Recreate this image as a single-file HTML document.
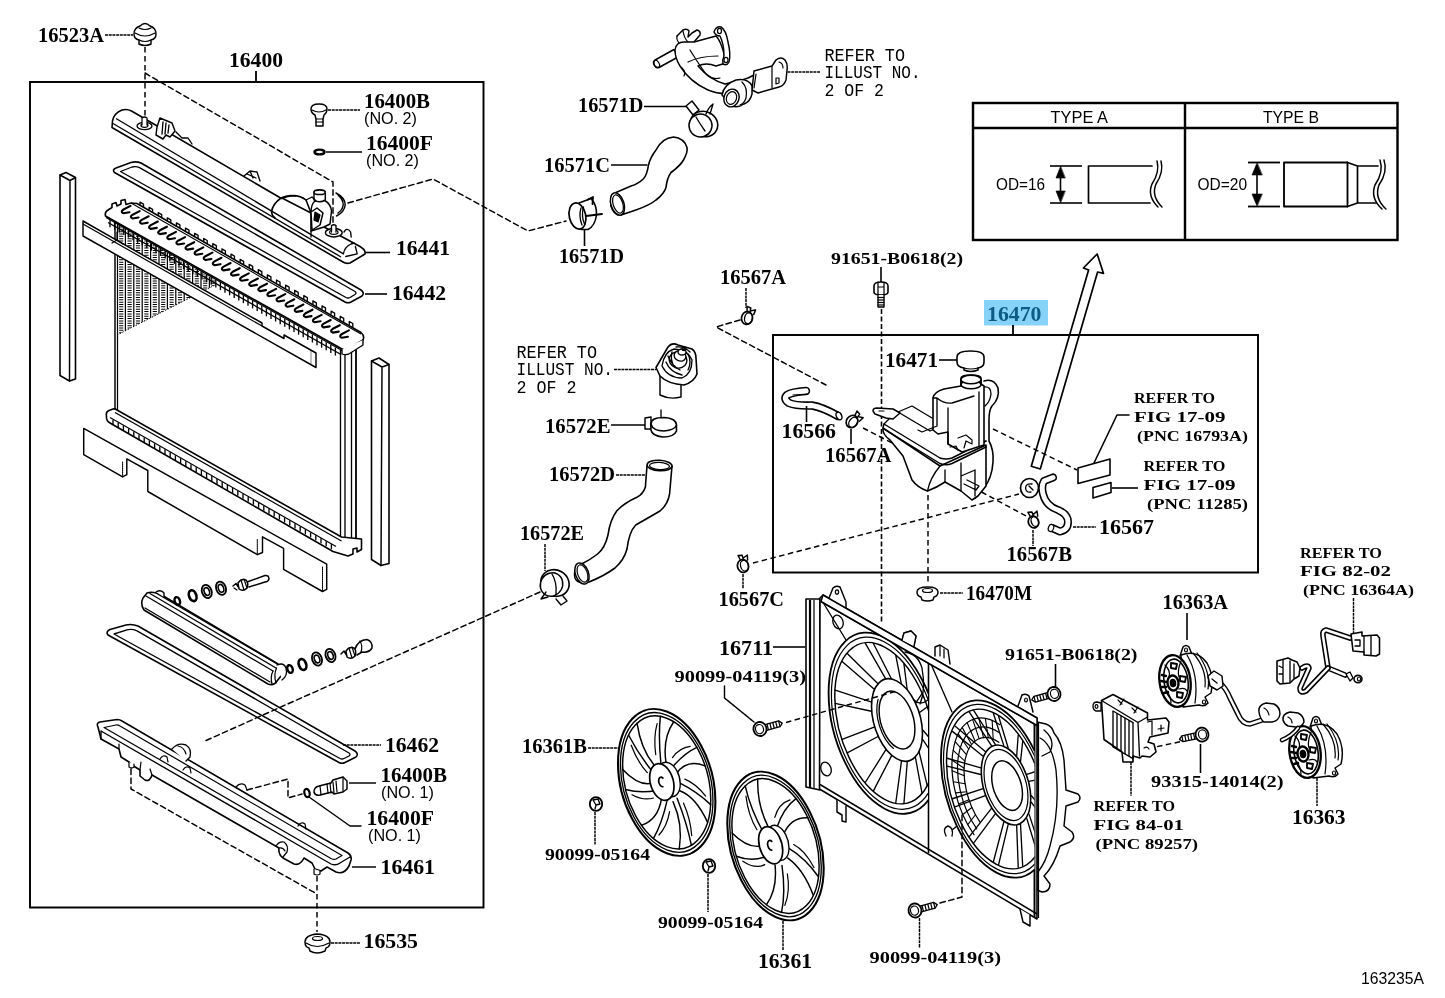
<!DOCTYPE html>
<html><head><meta charset="utf-8"><title>Radiator &amp; Water Outlet</title>
<style>
html,body{margin:0;padding:0;background:#fff;}
body{width:1445px;height:998px;overflow:hidden;}
svg{display:block;will-change:transform;}
</style></head>
<body>
<svg width="1445" height="998" viewBox="0 0 1445 998" shape-rendering="geometricPrecision">
<rect x="0" y="0" width="1445" height="998" fill="#fff"/>
<g id="radiator">
<line x1="145" y1="47" x2="145" y2="120" stroke="#000" stroke-width="1.46" stroke-dasharray="5.5 3.5"/>
<polyline points="145,73 333,182 333,228" fill="none" stroke="#000" stroke-width="1.46" stroke-linejoin="round" stroke-linecap="round" stroke-dasharray="5.5 3.5"/>
<line x1="105" y1="35" x2="133" y2="35" stroke="#000" stroke-width="1.46" stroke-dasharray="3 0.7"/>
<path d="M134 34 Q134 28 140 26 Q145 21 150 26 Q156 28 156 34 Q156 39 151 40 L151 44 Q145 47 139 44 L139 40 Q134 39 134 34 Z" fill="#fff" stroke="#000" stroke-width="1.46" stroke-linejoin="round" stroke-linecap="round"/>
<path d="M135 33 Q145 39 155 33 M139 28 Q145 31 151 28 M139 40 Q145 43 151 40" fill="none" stroke="#000" stroke-width="1.22" stroke-linejoin="round" stroke-linecap="round"/>
<path d="M112 127.5 L112.5 121 Q114 113 122 110 Q127 108.5 131.5 111 L281.5 198.5 Q296 192 306 200 L311 213 L311 231 L324 227 L360 246.5 Q366 250 365 254 L350 263 Q346 264 343 262 Z" fill="#fff" stroke="#000" stroke-width="1.59" stroke-linejoin="round" stroke-linecap="round"/>
<line x1="116" y1="118.5" x2="343.4" y2="253.8" stroke="#000" stroke-width="1.34"/>
<line x1="113" y1="123.5" x2="341" y2="257" stroke="#000" stroke-width="1.34"/>
<ellipse cx="144.5" cy="126" rx="7.5" ry="3.6" fill="#fff" stroke="#000" stroke-width="1.34"/>
<ellipse cx="144.5" cy="125.5" rx="3.5" ry="1.8" fill="none" stroke="#000" stroke-width="1.22"/>
<path d="M142 125 L142 118 Q144.5 116 147 118 L147 125" fill="#fff" stroke="#000" stroke-width="1.22" stroke-linejoin="round" stroke-linecap="round"/>
<path d="M157 127 L160 118 L172 123 L175 131 L170 137 L166 135 L163 139 L156 135 Z" fill="#fff" stroke="#000" stroke-width="1.46" stroke-linejoin="round" stroke-linecap="round"/>
<path d="M163 122 L162 134 M166 123 L165 134 M169 125 L168 133 M176 132 L182 138 L188 138 L192 144" fill="none" stroke="#000" stroke-width="1.34" stroke-linejoin="round" stroke-linecap="round"/>
<path d="M244 176 L250 171 L257 172 L260 181 M250 171 L253 178 M247 174 L256 178" fill="none" stroke="#000" stroke-width="1.34" stroke-linejoin="round" stroke-linecap="round"/>
<path d="M295.3 196 Q288 194.5 281 198 Q272.5 204 271.5 212 Q272 216 275 218" fill="none" stroke="#000" stroke-width="1.59" stroke-linejoin="round" stroke-linecap="round"/>
<path d="M282 198 L311 213" fill="none" stroke="#000" stroke-width="1.46" stroke-linejoin="round" stroke-linecap="round"/>
<path d="M336 193 Q345.5 198 345.2 205 Q344.5 212 336.5 216 M338 195 Q343.5 200 343.2 205 Q342.5 210 338 213" fill="none" stroke="#000" stroke-width="1.46" stroke-linejoin="round" stroke-linecap="round"/>
<path d="M311 213 Q311 204 315 201 L324 200 Q331 204 331.5 211 L330 224 L324 227" fill="#fff" stroke="#000" stroke-width="1.46" stroke-linejoin="round" stroke-linecap="round"/>
<path d="M314 192 L314 200 Q319.5 203.5 325.3 200 L325.3 192" fill="#fff" stroke="#000" stroke-width="1.46" stroke-linejoin="round" stroke-linecap="round"/>
<ellipse cx="319.6" cy="192.2" rx="5.6" ry="2.3" fill="#fff" stroke="#000" stroke-width="1.59"/>
<path d="M311 212 L317 208 L323 213 L320 225 L312 230 Z" fill="#fff" stroke="#000" stroke-width="1.46" stroke-linejoin="round" stroke-linecap="round"/>
<path d="M315 212 L320 215 L318 222 L314 220 Z" fill="#000" stroke="#000" stroke-width="1.22" stroke-linejoin="round" stroke-linecap="round"/>
<path d="M306 200 L312 197 L316 201" fill="none" stroke="#000" stroke-width="1.34" stroke-linejoin="round" stroke-linecap="round"/>
<path d="M311 231 L311 237" fill="none" stroke="#000" stroke-width="1.34" stroke-linejoin="round" stroke-linecap="round"/>
<ellipse cx="333.8" cy="232.7" rx="8.4" ry="4.2" fill="#fff" stroke="#000" stroke-width="1.46"/>
<ellipse cx="333.8" cy="232.3" rx="4.2" ry="2.1" fill="none" stroke="#000" stroke-width="1.22"/>
<path d="M331.5 232 L331.5 225.5 Q333.8 224 336 225.5 L336 232" fill="#fff" stroke="#000" stroke-width="1.34" stroke-linejoin="round" stroke-linecap="round"/>
<path d="M344 232 L345.8 229.7 Q348.5 228.5 350.6 232 L351.2 237" fill="none" stroke="#000" stroke-width="1.34" stroke-linejoin="round" stroke-linecap="round"/>
<path d="M343.4 253.8 Q344.5 247 351 244 L354.2 243 M355.4 246.5 L357.2 253.8 L345.8 256.5" fill="none" stroke="#000" stroke-width="1.34" stroke-linejoin="round" stroke-linecap="round"/>
<line x1="365" y1="252.5" x2="390" y2="252.5" stroke="#000" stroke-width="1.59"/>
<path d="M114.5 172.5 Q112 169.5 116 168 L131 162.5 Q136 161 141 163 L361 290 Q365 293 362 296 L351 302 Q348 303.5 345 302 Z" fill="#fff" stroke="#000" stroke-width="1.59" stroke-linejoin="round" stroke-linecap="round"/>
<path d="M120.5 171.5 L132 167 Q136 166 140 167.8 L355 291.5 Q357 293 355 294.5 L350 297.5 Q348 298.5 346 297.5 Z" fill="#fff" stroke="#000" stroke-width="1.34" stroke-linejoin="round" stroke-linecap="round"/>
<line x1="365" y1="294" x2="387" y2="294" stroke="#000" stroke-width="1.59"/>
<path d="M60 175 L66 172.5 L75.5 177.5 L75.5 379 L69.5 381 L60 375.5 Z" fill="#fff" stroke="#000" stroke-width="1.59" stroke-linejoin="round" stroke-linecap="round"/>
<path d="M60 175 L70 180.5 L75.5 177.5 M70 180.5 L69.5 381" fill="none" stroke="#000" stroke-width="1.46" stroke-linejoin="round" stroke-linecap="round"/>
<path d="M371.5 361 L379 358 L389 364.5 L389 563.5 L381 565.5 L371.5 559.5 Z" fill="#fff" stroke="#000" stroke-width="1.59" stroke-linejoin="round" stroke-linecap="round"/>
<path d="M371.5 361 L382 367 L389 364.5 M382 367 L381 565.5" fill="none" stroke="#000" stroke-width="1.46" stroke-linejoin="round" stroke-linecap="round"/>
<path d="M115 222 L115 412 L341 541 L356 539 L356 350 Z" fill="#fff" stroke="#000" stroke-width="1.46" stroke-linejoin="round" stroke-linecap="round"/>
<clipPath id="hc"><polygon points="117,224 117,335 215,285 215,280"/></clipPath>
<g clip-path="url(#hc)">
<line x1="117.0" y1="210" x2="117.0" y2="340" stroke="#000" stroke-width="1.22"/>
<line x1="121.2" y1="210" x2="121.2" y2="340" stroke="#000" stroke-width="4.2" stroke-dasharray="1 1.35"/>
<line x1="125.4" y1="210" x2="125.4" y2="340" stroke="#000" stroke-width="1.22"/>
<line x1="129.6" y1="210" x2="129.6" y2="340" stroke="#000" stroke-width="4.2" stroke-dasharray="1 1.35"/>
<line x1="133.8" y1="210" x2="133.8" y2="340" stroke="#000" stroke-width="1.22"/>
<line x1="138.0" y1="210" x2="138.0" y2="340" stroke="#000" stroke-width="4.2" stroke-dasharray="1 1.35"/>
<line x1="142.20000000000002" y1="210" x2="142.20000000000002" y2="340" stroke="#000" stroke-width="1.22"/>
<line x1="146.4" y1="210" x2="146.4" y2="340" stroke="#000" stroke-width="4.2" stroke-dasharray="1 1.35"/>
<line x1="150.60000000000002" y1="210" x2="150.60000000000002" y2="340" stroke="#000" stroke-width="1.22"/>
<line x1="154.8" y1="210" x2="154.8" y2="340" stroke="#000" stroke-width="4.2" stroke-dasharray="1 1.35"/>
<line x1="159.00000000000003" y1="210" x2="159.00000000000003" y2="340" stroke="#000" stroke-width="1.22"/>
<line x1="163.20000000000002" y1="210" x2="163.20000000000002" y2="340" stroke="#000" stroke-width="4.2" stroke-dasharray="1 1.35"/>
<line x1="167.40000000000003" y1="210" x2="167.40000000000003" y2="340" stroke="#000" stroke-width="1.22"/>
<line x1="171.60000000000002" y1="210" x2="171.60000000000002" y2="340" stroke="#000" stroke-width="4.2" stroke-dasharray="1 1.35"/>
<line x1="175.80000000000004" y1="210" x2="175.80000000000004" y2="340" stroke="#000" stroke-width="1.22"/>
<line x1="180.00000000000003" y1="210" x2="180.00000000000003" y2="340" stroke="#000" stroke-width="4.2" stroke-dasharray="1 1.35"/>
<line x1="184.20000000000005" y1="210" x2="184.20000000000005" y2="340" stroke="#000" stroke-width="1.22"/>
<line x1="188.40000000000003" y1="210" x2="188.40000000000003" y2="340" stroke="#000" stroke-width="4.2" stroke-dasharray="1 1.35"/>
<line x1="192.60000000000005" y1="210" x2="192.60000000000005" y2="340" stroke="#000" stroke-width="1.22"/>
<line x1="196.80000000000004" y1="210" x2="196.80000000000004" y2="340" stroke="#000" stroke-width="4.2" stroke-dasharray="1 1.35"/>
<line x1="201.00000000000006" y1="210" x2="201.00000000000006" y2="340" stroke="#000" stroke-width="1.22"/>
<line x1="205.20000000000005" y1="210" x2="205.20000000000005" y2="340" stroke="#000" stroke-width="4.2" stroke-dasharray="1 1.35"/>
<line x1="209.40000000000006" y1="210" x2="209.40000000000006" y2="340" stroke="#000" stroke-width="1.22"/>
<line x1="213.60000000000005" y1="210" x2="213.60000000000005" y2="340" stroke="#000" stroke-width="4.2" stroke-dasharray="1 1.35"/>
</g>
<line x1="117" y1="335" x2="215" y2="285" stroke="#000" stroke-width="0.98" stroke-dasharray="1.5 1.5"/>
<line x1="117.5" y1="224" x2="117.5" y2="412" stroke="#000" stroke-width="1.22"/>
<line x1="340.5" y1="350" x2="340.5" y2="540" stroke="#000" stroke-width="1.34"/>
<line x1="345" y1="350" x2="345" y2="540" stroke="#000" stroke-width="1.34"/>
<line x1="351.5" y1="350" x2="351.5" y2="540" stroke="#000" stroke-width="1.34"/>
<line x1="356" y1="350" x2="356" y2="540" stroke="#000" stroke-width="1.34"/>
<path d="M105.5 216 Q104.5 212 108 210 L112 207.5 L112 204 L116 202.5 L117 206 L121 204 L121 200.5 L125 199.5 L126 204.5 L131 203 L137 203.5 L361 332.5 Q365 336 363 340 L352 346.5 Q347 349.5 342 349 Z" fill="#fff" stroke="#000" stroke-width="1.59" stroke-linejoin="round" stroke-linecap="round"/>
<line x1="108" y1="222.5" x2="341" y2="354.5" stroke="#000" stroke-width="1.34"/>
<line x1="106" y1="217.5" x2="342" y2="350.5" stroke="#000" stroke-width="1.22"/>
<line x1="110.0" y1="219.14" x2="110.0" y2="227.14" stroke="#000" stroke-width="1.34"/>
<line x1="114.6" y1="221.762" x2="114.6" y2="229.762" stroke="#000" stroke-width="1.34"/>
<line x1="119.19999999999999" y1="224.384" x2="119.19999999999999" y2="232.384" stroke="#000" stroke-width="1.34"/>
<line x1="123.79999999999998" y1="227.006" x2="123.79999999999998" y2="235.006" stroke="#000" stroke-width="1.34"/>
<line x1="128.39999999999998" y1="229.628" x2="128.39999999999998" y2="237.628" stroke="#000" stroke-width="1.34"/>
<line x1="132.99999999999997" y1="232.24999999999997" x2="132.99999999999997" y2="240.24999999999997" stroke="#000" stroke-width="1.34"/>
<line x1="137.59999999999997" y1="234.87199999999999" x2="137.59999999999997" y2="242.87199999999999" stroke="#000" stroke-width="1.34"/>
<line x1="142.19999999999996" y1="237.49399999999997" x2="142.19999999999996" y2="245.49399999999997" stroke="#000" stroke-width="1.34"/>
<line x1="146.79999999999995" y1="240.11599999999999" x2="146.79999999999995" y2="248.11599999999999" stroke="#000" stroke-width="1.34"/>
<line x1="151.39999999999995" y1="242.73799999999997" x2="151.39999999999995" y2="250.73799999999997" stroke="#000" stroke-width="1.34"/>
<line x1="155.99999999999994" y1="245.35999999999996" x2="155.99999999999994" y2="253.35999999999996" stroke="#000" stroke-width="1.34"/>
<line x1="160.59999999999994" y1="247.98199999999997" x2="160.59999999999994" y2="255.98199999999997" stroke="#000" stroke-width="1.34"/>
<line x1="165.19999999999993" y1="250.60399999999996" x2="165.19999999999993" y2="258.6039999999999" stroke="#000" stroke-width="1.34"/>
<line x1="169.79999999999993" y1="253.22599999999994" x2="169.79999999999993" y2="261.22599999999994" stroke="#000" stroke-width="1.34"/>
<line x1="174.39999999999992" y1="255.84799999999996" x2="174.39999999999992" y2="263.84799999999996" stroke="#000" stroke-width="1.34"/>
<line x1="178.99999999999991" y1="258.46999999999997" x2="178.99999999999991" y2="266.46999999999997" stroke="#000" stroke-width="1.34"/>
<line x1="183.5999999999999" y1="261.0919999999999" x2="183.5999999999999" y2="269.0919999999999" stroke="#000" stroke-width="1.34"/>
<line x1="188.1999999999999" y1="263.71399999999994" x2="188.1999999999999" y2="271.71399999999994" stroke="#000" stroke-width="1.34"/>
<line x1="192.7999999999999" y1="266.33599999999996" x2="192.7999999999999" y2="274.33599999999996" stroke="#000" stroke-width="1.34"/>
<line x1="197.3999999999999" y1="268.9579999999999" x2="197.3999999999999" y2="276.9579999999999" stroke="#000" stroke-width="1.34"/>
<line x1="201.9999999999999" y1="271.5799999999999" x2="201.9999999999999" y2="279.5799999999999" stroke="#000" stroke-width="1.34"/>
<line x1="206.59999999999988" y1="274.20199999999994" x2="206.59999999999988" y2="282.20199999999994" stroke="#000" stroke-width="1.34"/>
<line x1="211.19999999999987" y1="276.82399999999996" x2="211.19999999999987" y2="284.82399999999996" stroke="#000" stroke-width="1.34"/>
<line x1="215.79999999999987" y1="279.4459999999999" x2="215.79999999999987" y2="287.4459999999999" stroke="#000" stroke-width="1.34"/>
<line x1="220.39999999999986" y1="282.0679999999999" x2="220.39999999999986" y2="290.0679999999999" stroke="#000" stroke-width="1.34"/>
<line x1="224.99999999999986" y1="284.68999999999994" x2="224.99999999999986" y2="292.68999999999994" stroke="#000" stroke-width="1.34"/>
<line x1="229.59999999999985" y1="287.3119999999999" x2="229.59999999999985" y2="295.3119999999999" stroke="#000" stroke-width="1.34"/>
<line x1="234.19999999999985" y1="289.9339999999999" x2="234.19999999999985" y2="297.9339999999999" stroke="#000" stroke-width="1.34"/>
<line x1="238.79999999999984" y1="292.5559999999999" x2="238.79999999999984" y2="300.5559999999999" stroke="#000" stroke-width="1.34"/>
<line x1="243.39999999999984" y1="295.1779999999999" x2="243.39999999999984" y2="303.1779999999999" stroke="#000" stroke-width="1.34"/>
<line x1="247.99999999999983" y1="297.7999999999999" x2="247.99999999999983" y2="305.7999999999999" stroke="#000" stroke-width="1.34"/>
<line x1="252.59999999999982" y1="300.4219999999999" x2="252.59999999999982" y2="308.4219999999999" stroke="#000" stroke-width="1.34"/>
<line x1="257.1999999999998" y1="303.04399999999987" x2="257.1999999999998" y2="311.04399999999987" stroke="#000" stroke-width="1.34"/>
<line x1="261.79999999999984" y1="305.6659999999999" x2="261.79999999999984" y2="313.6659999999999" stroke="#000" stroke-width="1.34"/>
<line x1="266.39999999999986" y1="308.2879999999999" x2="266.39999999999986" y2="316.2879999999999" stroke="#000" stroke-width="1.34"/>
<line x1="270.9999999999999" y1="310.9099999999999" x2="270.9999999999999" y2="318.9099999999999" stroke="#000" stroke-width="1.34"/>
<line x1="275.5999999999999" y1="313.5319999999999" x2="275.5999999999999" y2="321.5319999999999" stroke="#000" stroke-width="1.34"/>
<line x1="280.19999999999993" y1="316.15399999999994" x2="280.19999999999993" y2="324.15399999999994" stroke="#000" stroke-width="1.34"/>
<line x1="284.79999999999995" y1="318.77599999999995" x2="284.79999999999995" y2="326.77599999999995" stroke="#000" stroke-width="1.34"/>
<line x1="289.4" y1="321.39799999999997" x2="289.4" y2="329.39799999999997" stroke="#000" stroke-width="1.34"/>
<line x1="294.0" y1="324.02" x2="294.0" y2="332.02" stroke="#000" stroke-width="1.34"/>
<line x1="298.6" y1="326.642" x2="298.6" y2="334.642" stroke="#000" stroke-width="1.34"/>
<line x1="303.20000000000005" y1="329.264" x2="303.20000000000005" y2="337.264" stroke="#000" stroke-width="1.34"/>
<line x1="307.80000000000007" y1="331.886" x2="307.80000000000007" y2="339.886" stroke="#000" stroke-width="1.34"/>
<line x1="312.4000000000001" y1="334.50800000000004" x2="312.4000000000001" y2="342.50800000000004" stroke="#000" stroke-width="1.34"/>
<line x1="317.0000000000001" y1="337.13000000000005" x2="317.0000000000001" y2="345.13000000000005" stroke="#000" stroke-width="1.34"/>
<line x1="321.60000000000014" y1="339.75200000000007" x2="321.60000000000014" y2="347.75200000000007" stroke="#000" stroke-width="1.34"/>
<line x1="326.20000000000016" y1="342.3740000000001" x2="326.20000000000016" y2="350.3740000000001" stroke="#000" stroke-width="1.34"/>
<line x1="330.8000000000002" y1="344.9960000000001" x2="330.8000000000002" y2="352.9960000000001" stroke="#000" stroke-width="1.34"/>
<line x1="335.4000000000002" y1="347.6180000000001" x2="335.4000000000002" y2="355.6180000000001" stroke="#000" stroke-width="1.34"/>
<path d="M130.5 205.9 L123.5 209.5 Q120.0 211.9 123.5 213.3 L129.5 212.3" fill="none" stroke="#000" stroke-width="2.13" stroke-linejoin="round" stroke-linecap="round"/>
<path d="M139.6 211.1 L132.6 214.7 Q129.1 217.1 132.6 218.5 L138.6 217.5" fill="none" stroke="#000" stroke-width="2.13" stroke-linejoin="round" stroke-linecap="round"/>
<path d="M148.7 216.3 L141.7 219.9 Q138.2 222.3 141.7 223.7 L147.7 222.7" fill="none" stroke="#000" stroke-width="2.13" stroke-linejoin="round" stroke-linecap="round"/>
<path d="M157.8 221.5 L150.8 225.1 Q147.3 227.5 150.8 228.9 L156.8 227.9" fill="none" stroke="#000" stroke-width="2.13" stroke-linejoin="round" stroke-linecap="round"/>
<path d="M166.9 226.7 L159.9 230.3 Q156.4 232.7 159.9 234.1 L165.9 233.1" fill="none" stroke="#000" stroke-width="2.13" stroke-linejoin="round" stroke-linecap="round"/>
<path d="M176.0 231.9 L169.0 235.5 Q165.5 237.9 169.0 239.3 L175.0 238.3" fill="none" stroke="#000" stroke-width="2.13" stroke-linejoin="round" stroke-linecap="round"/>
<path d="M185.1 237.1 L178.1 240.7 Q174.6 243.1 178.1 244.5 L184.1 243.5" fill="none" stroke="#000" stroke-width="2.13" stroke-linejoin="round" stroke-linecap="round"/>
<path d="M194.2 242.2 L187.2 245.8 Q183.7 248.2 187.2 249.6 L193.2 248.6" fill="none" stroke="#000" stroke-width="2.13" stroke-linejoin="round" stroke-linecap="round"/>
<path d="M203.3 247.4 L196.3 251.0 Q192.8 253.4 196.3 254.8 L202.3 253.8" fill="none" stroke="#000" stroke-width="2.13" stroke-linejoin="round" stroke-linecap="round"/>
<path d="M212.4 252.6 L205.4 256.2 Q201.9 258.6 205.4 260.0 L211.4 259.0" fill="none" stroke="#000" stroke-width="2.13" stroke-linejoin="round" stroke-linecap="round"/>
<path d="M221.5 257.8 L214.5 261.4 Q211.0 263.8 214.5 265.2 L220.5 264.2" fill="none" stroke="#000" stroke-width="2.13" stroke-linejoin="round" stroke-linecap="round"/>
<path d="M230.6 263.0 L223.6 266.6 Q220.1 269.0 223.6 270.4 L229.6 269.4" fill="none" stroke="#000" stroke-width="2.13" stroke-linejoin="round" stroke-linecap="round"/>
<path d="M239.7 268.2 L232.7 271.8 Q229.2 274.2 232.7 275.6 L238.7 274.6" fill="none" stroke="#000" stroke-width="2.13" stroke-linejoin="round" stroke-linecap="round"/>
<path d="M248.8 273.4 L241.8 277.0 Q238.3 279.4 241.8 280.8 L247.8 279.8" fill="none" stroke="#000" stroke-width="2.13" stroke-linejoin="round" stroke-linecap="round"/>
<path d="M257.9 278.5 L250.9 282.1 Q247.4 284.5 250.9 285.9 L256.9 284.9" fill="none" stroke="#000" stroke-width="2.13" stroke-linejoin="round" stroke-linecap="round"/>
<path d="M267.0 283.7 L260.0 287.3 Q256.5 289.7 260.0 291.1 L266.0 290.1" fill="none" stroke="#000" stroke-width="2.13" stroke-linejoin="round" stroke-linecap="round"/>
<path d="M276.1 288.9 L269.1 292.5 Q265.6 294.9 269.1 296.3 L275.1 295.3" fill="none" stroke="#000" stroke-width="2.13" stroke-linejoin="round" stroke-linecap="round"/>
<path d="M285.2 294.1 L278.2 297.7 Q274.7 300.1 278.2 301.5 L284.2 300.5" fill="none" stroke="#000" stroke-width="2.13" stroke-linejoin="round" stroke-linecap="round"/>
<path d="M294.3 299.3 L287.3 302.9 Q283.8 305.3 287.3 306.7 L293.3 305.7" fill="none" stroke="#000" stroke-width="2.13" stroke-linejoin="round" stroke-linecap="round"/>
<path d="M303.4 304.5 L296.4 308.1 Q292.9 310.5 296.4 311.9 L302.4 310.9" fill="none" stroke="#000" stroke-width="2.13" stroke-linejoin="round" stroke-linecap="round"/>
<path d="M312.5 309.7 L305.5 313.3 Q302.0 315.7 305.5 317.1 L311.5 316.1" fill="none" stroke="#000" stroke-width="2.13" stroke-linejoin="round" stroke-linecap="round"/>
<path d="M321.6 314.9 L314.6 318.5 Q311.1 320.9 314.6 322.3 L320.6 321.3" fill="none" stroke="#000" stroke-width="2.13" stroke-linejoin="round" stroke-linecap="round"/>
<path d="M330.7 320.0 L323.7 323.6 Q320.2 326.0 323.7 327.4 L329.7 326.4" fill="none" stroke="#000" stroke-width="2.13" stroke-linejoin="round" stroke-linecap="round"/>
<path d="M339.8 325.2 L332.8 328.8 Q329.3 331.2 332.8 332.6 L338.8 331.6" fill="none" stroke="#000" stroke-width="2.13" stroke-linejoin="round" stroke-linecap="round"/>
<path d="M348.9 330.4 L341.9 334.0 Q338.4 336.4 341.9 337.8 L347.9 336.8" fill="none" stroke="#000" stroke-width="2.13" stroke-linejoin="round" stroke-linecap="round"/>
<path d="M140.0 205.2 L140.0 202.2 L143.5 204.2 L143.5 207.2" fill="none" stroke="#000" stroke-width="1.34" stroke-linejoin="round" stroke-linecap="round"/>
<path d="M149.1 210.4 L149.1 207.4 L152.6 209.4 L152.6 212.4" fill="none" stroke="#000" stroke-width="1.34" stroke-linejoin="round" stroke-linecap="round"/>
<path d="M158.2 215.6 L158.2 212.6 L161.7 214.6 L161.7 217.6" fill="none" stroke="#000" stroke-width="1.34" stroke-linejoin="round" stroke-linecap="round"/>
<path d="M167.3 220.8 L167.3 217.8 L170.8 219.8 L170.8 222.8" fill="none" stroke="#000" stroke-width="1.34" stroke-linejoin="round" stroke-linecap="round"/>
<path d="M176.4 225.9 L176.4 222.9 L179.9 224.9 L179.9 227.9" fill="none" stroke="#000" stroke-width="1.34" stroke-linejoin="round" stroke-linecap="round"/>
<path d="M185.5 231.1 L185.5 228.1 L189.0 230.1 L189.0 233.1" fill="none" stroke="#000" stroke-width="1.34" stroke-linejoin="round" stroke-linecap="round"/>
<path d="M194.6 236.3 L194.6 233.3 L198.1 235.3 L198.1 238.3" fill="none" stroke="#000" stroke-width="1.34" stroke-linejoin="round" stroke-linecap="round"/>
<path d="M203.7 241.5 L203.7 238.5 L207.2 240.5 L207.2 243.5" fill="none" stroke="#000" stroke-width="1.34" stroke-linejoin="round" stroke-linecap="round"/>
<path d="M212.8 246.7 L212.8 243.7 L216.3 245.7 L216.3 248.7" fill="none" stroke="#000" stroke-width="1.34" stroke-linejoin="round" stroke-linecap="round"/>
<path d="M221.9 251.9 L221.9 248.9 L225.4 250.9 L225.4 253.9" fill="none" stroke="#000" stroke-width="1.34" stroke-linejoin="round" stroke-linecap="round"/>
<path d="M231.0 257.1 L231.0 254.1 L234.5 256.1 L234.5 259.1" fill="none" stroke="#000" stroke-width="1.34" stroke-linejoin="round" stroke-linecap="round"/>
<path d="M240.1 262.3 L240.1 259.3 L243.6 261.3 L243.6 264.3" fill="none" stroke="#000" stroke-width="1.34" stroke-linejoin="round" stroke-linecap="round"/>
<path d="M249.2 267.4 L249.2 264.4 L252.7 266.4 L252.7 269.4" fill="none" stroke="#000" stroke-width="1.34" stroke-linejoin="round" stroke-linecap="round"/>
<path d="M258.3 272.6 L258.3 269.6 L261.8 271.6 L261.8 274.6" fill="none" stroke="#000" stroke-width="1.34" stroke-linejoin="round" stroke-linecap="round"/>
<path d="M267.4 277.8 L267.4 274.8 L270.9 276.8 L270.9 279.8" fill="none" stroke="#000" stroke-width="1.34" stroke-linejoin="round" stroke-linecap="round"/>
<path d="M276.5 283.0 L276.5 280.0 L280.0 282.0 L280.0 285.0" fill="none" stroke="#000" stroke-width="1.34" stroke-linejoin="round" stroke-linecap="round"/>
<path d="M285.6 288.2 L285.6 285.2 L289.1 287.2 L289.1 290.2" fill="none" stroke="#000" stroke-width="1.34" stroke-linejoin="round" stroke-linecap="round"/>
<path d="M294.7 293.4 L294.7 290.4 L298.2 292.4 L298.2 295.4" fill="none" stroke="#000" stroke-width="1.34" stroke-linejoin="round" stroke-linecap="round"/>
<path d="M303.8 298.6 L303.8 295.6 L307.3 297.6 L307.3 300.6" fill="none" stroke="#000" stroke-width="1.34" stroke-linejoin="round" stroke-linecap="round"/>
<path d="M312.9 303.8 L312.9 300.8 L316.4 302.8 L316.4 305.8" fill="none" stroke="#000" stroke-width="1.34" stroke-linejoin="round" stroke-linecap="round"/>
<path d="M322.0 308.9 L322.0 305.9 L325.5 307.9 L325.5 310.9" fill="none" stroke="#000" stroke-width="1.34" stroke-linejoin="round" stroke-linecap="round"/>
<path d="M331.1 314.1 L331.1 311.1 L334.6 313.1 L334.6 316.1" fill="none" stroke="#000" stroke-width="1.34" stroke-linejoin="round" stroke-linecap="round"/>
<path d="M340.2 319.3 L340.2 316.3 L343.7 318.3 L343.7 321.3" fill="none" stroke="#000" stroke-width="1.34" stroke-linejoin="round" stroke-linecap="round"/>
<path d="M349.3 324.5 L349.3 321.5 L352.8 323.5 L352.8 326.5" fill="none" stroke="#000" stroke-width="1.34" stroke-linejoin="round" stroke-linecap="round"/>
<line x1="131" y1="203" x2="361" y2="334" stroke="#000" stroke-width="1.1"/>
<path d="M342 349 L342 354 Q347 356 352 352 L363 345 L363 340" fill="#fff" stroke="#000" stroke-width="1.34" stroke-linejoin="round" stroke-linecap="round"/>
<path d="M83 221 L262 323 L262 326 L284 338.5 L284 335 L316 353 L316 367.5 L83 236 Z" fill="#fff" stroke="#000" stroke-width="1.46" stroke-linejoin="round" stroke-linecap="round"/>
<line x1="83" y1="224" x2="262" y2="326" stroke="#000" stroke-width="1.22"/>
<line x1="311" y1="350.5" x2="311" y2="364.5" stroke="#000" stroke-width="0.98" stroke-dasharray="1 1"/>
<path d="M117 232 L117 240 L112 243 M117 240 L123 244" fill="none" stroke="#000" stroke-width="1.22" stroke-linejoin="round" stroke-linecap="round"/>
<path d="M106.5 416 Q105.5 412 109 410.5 L113 409 Q115 408.5 117 410 L341.5 537 L361.5 539 L361.5 549.5 L357 552 L357 548 L353 549 L353 554 L348 556 L333 551.5 L110 423 Q106 421 106.5 416 Z" fill="#fff" stroke="#000" stroke-width="1.59" stroke-linejoin="round" stroke-linecap="round"/>
<line x1="110" y1="417.5" x2="336" y2="546.5" stroke="#000" stroke-width="1.22"/>
<line x1="115" y1="412.5" x2="341.5" y2="541" stroke="#000" stroke-width="1.22"/>
<line x1="113.0" y1="419.71" x2="113.0" y2="424.71" stroke="#000" stroke-width="1.34"/>
<line x1="118.2" y1="422.674" x2="118.2" y2="427.674" stroke="#000" stroke-width="1.34"/>
<line x1="123.4" y1="425.638" x2="123.4" y2="430.638" stroke="#000" stroke-width="1.34"/>
<line x1="128.6" y1="428.602" x2="128.6" y2="433.602" stroke="#000" stroke-width="1.34"/>
<line x1="133.79999999999998" y1="431.566" x2="133.79999999999998" y2="436.566" stroke="#000" stroke-width="1.34"/>
<line x1="138.99999999999997" y1="434.53" x2="138.99999999999997" y2="439.53" stroke="#000" stroke-width="1.34"/>
<line x1="144.19999999999996" y1="437.49399999999997" x2="144.19999999999996" y2="442.49399999999997" stroke="#000" stroke-width="1.34"/>
<line x1="149.39999999999995" y1="440.45799999999997" x2="149.39999999999995" y2="445.45799999999997" stroke="#000" stroke-width="1.34"/>
<line x1="154.59999999999994" y1="443.42199999999997" x2="154.59999999999994" y2="448.42199999999997" stroke="#000" stroke-width="1.34"/>
<line x1="159.79999999999993" y1="446.38599999999997" x2="159.79999999999993" y2="451.38599999999997" stroke="#000" stroke-width="1.34"/>
<line x1="164.99999999999991" y1="449.34999999999997" x2="164.99999999999991" y2="454.34999999999997" stroke="#000" stroke-width="1.34"/>
<line x1="170.1999999999999" y1="452.31399999999996" x2="170.1999999999999" y2="457.31399999999996" stroke="#000" stroke-width="1.34"/>
<line x1="175.3999999999999" y1="455.2779999999999" x2="175.3999999999999" y2="460.2779999999999" stroke="#000" stroke-width="1.34"/>
<line x1="180.59999999999988" y1="458.2419999999999" x2="180.59999999999988" y2="463.2419999999999" stroke="#000" stroke-width="1.34"/>
<line x1="185.79999999999987" y1="461.2059999999999" x2="185.79999999999987" y2="466.2059999999999" stroke="#000" stroke-width="1.34"/>
<line x1="190.99999999999986" y1="464.1699999999999" x2="190.99999999999986" y2="469.1699999999999" stroke="#000" stroke-width="1.34"/>
<line x1="196.19999999999985" y1="467.1339999999999" x2="196.19999999999985" y2="472.1339999999999" stroke="#000" stroke-width="1.34"/>
<line x1="201.39999999999984" y1="470.0979999999999" x2="201.39999999999984" y2="475.0979999999999" stroke="#000" stroke-width="1.34"/>
<line x1="206.59999999999982" y1="473.0619999999999" x2="206.59999999999982" y2="478.0619999999999" stroke="#000" stroke-width="1.34"/>
<line x1="211.7999999999998" y1="476.0259999999999" x2="211.7999999999998" y2="481.0259999999999" stroke="#000" stroke-width="1.34"/>
<line x1="216.9999999999998" y1="478.9899999999999" x2="216.9999999999998" y2="483.9899999999999" stroke="#000" stroke-width="1.34"/>
<line x1="222.1999999999998" y1="481.9539999999999" x2="222.1999999999998" y2="486.9539999999999" stroke="#000" stroke-width="1.34"/>
<line x1="227.39999999999978" y1="484.9179999999999" x2="227.39999999999978" y2="489.9179999999999" stroke="#000" stroke-width="1.34"/>
<line x1="232.59999999999977" y1="487.88199999999983" x2="232.59999999999977" y2="492.88199999999983" stroke="#000" stroke-width="1.34"/>
<line x1="237.79999999999976" y1="490.8459999999999" x2="237.79999999999976" y2="495.8459999999999" stroke="#000" stroke-width="1.34"/>
<line x1="242.99999999999974" y1="493.80999999999983" x2="242.99999999999974" y2="498.80999999999983" stroke="#000" stroke-width="1.34"/>
<line x1="248.19999999999973" y1="496.77399999999983" x2="248.19999999999973" y2="501.77399999999983" stroke="#000" stroke-width="1.34"/>
<line x1="253.39999999999972" y1="499.73799999999983" x2="253.39999999999972" y2="504.73799999999983" stroke="#000" stroke-width="1.34"/>
<line x1="258.59999999999974" y1="502.7019999999998" x2="258.59999999999974" y2="507.7019999999998" stroke="#000" stroke-width="1.34"/>
<line x1="263.7999999999997" y1="505.6659999999998" x2="263.7999999999997" y2="510.6659999999998" stroke="#000" stroke-width="1.34"/>
<line x1="268.9999999999997" y1="508.6299999999998" x2="268.9999999999997" y2="513.6299999999999" stroke="#000" stroke-width="1.34"/>
<line x1="274.1999999999997" y1="511.5939999999998" x2="274.1999999999997" y2="516.5939999999998" stroke="#000" stroke-width="1.34"/>
<line x1="279.3999999999997" y1="514.5579999999998" x2="279.3999999999997" y2="519.5579999999998" stroke="#000" stroke-width="1.34"/>
<line x1="284.5999999999997" y1="517.5219999999998" x2="284.5999999999997" y2="522.5219999999998" stroke="#000" stroke-width="1.34"/>
<line x1="289.79999999999967" y1="520.4859999999998" x2="289.79999999999967" y2="525.4859999999998" stroke="#000" stroke-width="1.34"/>
<line x1="294.99999999999966" y1="523.4499999999998" x2="294.99999999999966" y2="528.4499999999998" stroke="#000" stroke-width="1.34"/>
<line x1="300.19999999999965" y1="526.4139999999998" x2="300.19999999999965" y2="531.4139999999998" stroke="#000" stroke-width="1.34"/>
<line x1="305.39999999999964" y1="529.3779999999998" x2="305.39999999999964" y2="534.3779999999998" stroke="#000" stroke-width="1.34"/>
<line x1="310.5999999999996" y1="532.3419999999998" x2="310.5999999999996" y2="537.3419999999998" stroke="#000" stroke-width="1.34"/>
<line x1="315.7999999999996" y1="535.3059999999998" x2="315.7999999999996" y2="540.3059999999998" stroke="#000" stroke-width="1.34"/>
<line x1="320.9999999999996" y1="538.2699999999998" x2="320.9999999999996" y2="543.2699999999998" stroke="#000" stroke-width="1.34"/>
<line x1="326.1999999999996" y1="541.2339999999997" x2="326.1999999999996" y2="546.2339999999997" stroke="#000" stroke-width="1.34"/>
<line x1="331.3999999999996" y1="544.1979999999998" x2="331.3999999999996" y2="549.1979999999998" stroke="#000" stroke-width="1.34"/>
<clipPath id="lsp"><polygon points="0,560 0,1000 500,1000 500,560 363,560 363,548 333,551.5 110,423 106,416 0,416"/></clipPath>
<polygon points="83.7,428.4 83.7,454.7 122.6,476.8 126.8,474.7 126.8,458.9 147.8,470.5 147.8,491.5 257.3,554.6 262.5,552.5 262.5,536.8 283.6,548.3 283.6,569.4 322.5,591.5 326.7,589.4 326.7,564.1" fill="#fff" stroke="#000" stroke-width="1.46" stroke-linejoin="round" stroke-linecap="round"/>
<path d="M122.6 476.8 L122.6 462 M257.3 554.6 L257.3 539 M322.5 591.5 L322.5 567" fill="none" stroke="#000" stroke-width="1.1" stroke-linejoin="round" stroke-linecap="round" stroke-dasharray="1 1"/>
<path d="M143 598 Q140 604 144 610 L268 684 Q274 686 277 681 L281 676 Q283 668 278 664 L160 594 Q152 591 147 593 Z" fill="#fff" stroke="#000" stroke-width="1.59" stroke-linejoin="round" stroke-linecap="round"/>
<path d="M146 596 L273 671 M150 593.5 L276 668 M156 593 L279 665 M145 608 L270 682" fill="none" stroke="#000" stroke-width="1.22" stroke-linejoin="round" stroke-linecap="round"/>
<path d="M273 671 Q270 677 272 684 M276.5 668 Q273.5 675 276 683" fill="none" stroke="#000" stroke-width="1.22" stroke-linejoin="round" stroke-linecap="round"/>
<path d="M156 592 Q161 589 164 593 L164 597" fill="#fff" stroke="#000" stroke-width="1.34" stroke-linejoin="round" stroke-linecap="round"/>
<path d="M277 665 Q284 662 286 668 Q288 676 282 680" fill="#fff" stroke="#000" stroke-width="1.34" stroke-linejoin="round" stroke-linecap="round"/>
<ellipse cx="177.3" cy="601" rx="2.6" ry="4" fill="none" stroke="#000" stroke-width="2.44" transform="rotate(-20 177.3 601)"/>
<ellipse cx="192.7" cy="595.7" rx="3.6" ry="5.6" fill="none" stroke="#000" stroke-width="2.68" transform="rotate(-20 192.7 595.7)"/>
<ellipse cx="206.8" cy="591.5" rx="4.8" ry="6.8" fill="none" stroke="#000" stroke-width="1.83" transform="rotate(-20 206.8 591.5)"/>
<ellipse cx="206.8" cy="591.5" rx="2.6" ry="4" fill="none" stroke="#000" stroke-width="1.59" transform="rotate(-20 206.8 591.5)"/>
<ellipse cx="221" cy="588.3" rx="4.8" ry="6.8" fill="none" stroke="#000" stroke-width="1.83" transform="rotate(-20 221 588.3)"/>
<ellipse cx="221" cy="588.3" rx="2.6" ry="4" fill="none" stroke="#000" stroke-width="1.59" transform="rotate(-20 221 588.3)"/>
<path d="M233 586 L236 583.5 L239 588 M238 583 Q241 578 246 580 Q249 583 247 588 Q243 592 239 589 Z M247 582 L265 575.5 Q269 575 269 579 Q268 582 265 582 L249 587" fill="#fff" stroke="#000" stroke-width="1.46" stroke-linejoin="round" stroke-linecap="round"/>
<path d="M234 588 L237 590 M241 580 L244 590 M244 579 L247 588" fill="none" stroke="#000" stroke-width="1.22" stroke-linejoin="round" stroke-linecap="round"/>
<ellipse cx="290" cy="669" rx="2.6" ry="4" fill="none" stroke="#000" stroke-width="2.44" transform="rotate(-20 290 669)"/>
<ellipse cx="302.5" cy="664.5" rx="3.6" ry="5.6" fill="none" stroke="#000" stroke-width="2.68" transform="rotate(-20 302.5 664.5)"/>
<ellipse cx="317" cy="659" rx="4.8" ry="6.8" fill="none" stroke="#000" stroke-width="1.83" transform="rotate(-20 317 659)"/>
<ellipse cx="317" cy="659" rx="2.6" ry="4" fill="none" stroke="#000" stroke-width="1.59" transform="rotate(-20 317 659)"/>
<ellipse cx="330.5" cy="655.5" rx="4.8" ry="6.8" fill="none" stroke="#000" stroke-width="1.83" transform="rotate(-20 330.5 655.5)"/>
<ellipse cx="330.5" cy="655.5" rx="2.6" ry="4" fill="none" stroke="#000" stroke-width="1.59" transform="rotate(-20 330.5 655.5)"/>
<path d="M341 654 L344 651 L347 656 M346 651 Q349 646 354 648 Q357 651 355 656 Q351 660 347 657 Z M355 649 Q358 640 367 639.5 Q373 642 372 648 Q369 653 362 652 L357 655" fill="#fff" stroke="#000" stroke-width="1.46" stroke-linejoin="round" stroke-linecap="round"/>
<path d="M349 648 L352 658 M352 647 L355 656 M360 641 Q363 646 361 652" fill="none" stroke="#000" stroke-width="1.22" stroke-linejoin="round" stroke-linecap="round"/>
<path d="M108 635 Q105.5 631.5 110 629.5 L126 625 Q132 623.5 138 626 L355 751 Q359 754 356 757 L345 762.5 Q342 764 339 762.5 Z" fill="#fff" stroke="#000" stroke-width="1.59" stroke-linejoin="round" stroke-linecap="round"/>
<path d="M114 634 L127 629.8 Q132 628.6 137 630.8 L349 753 Q351 754.5 349 756 L344 758.5 Q342 759.5 340 758.5 Z" fill="#fff" stroke="#000" stroke-width="1.34" stroke-linejoin="round" stroke-linecap="round"/>
<line x1="343" y1="745" x2="381" y2="745" stroke="#000" stroke-width="1.59" stroke-dasharray="3 0.7"/>
<polyline points="540,592 430,641 283,706 205,741" fill="none" stroke="#000" stroke-width="1.46" stroke-linejoin="round" stroke-linecap="round" stroke-dasharray="5.5 3.5"/>
<path d="M98 727 Q96 723 100 722 L117 719.5 Q120 719.5 122 721 L348 853 Q352 856 351 860 L349 866 Q344 875 336 872 L327 867 L321 871 L315 869 L312 863 L304 858 Q300 866 294 864 L283 858 Q278 854 279 848 L152 775 Q150 782 145 780 L140 776 L140 770 L132 765 L129 762 L121 757 L119 749 L101 739 Z" fill="#fff" stroke="#000" stroke-width="1.59" stroke-linejoin="round" stroke-linecap="round"/>
<path d="M104 727.5 L116 725 Q118 724.7 120 726 L342 855.5 L336 859 Q334 860 331 858.5 Z" fill="#fff" stroke="#000" stroke-width="1.22" stroke-linejoin="round" stroke-linecap="round"/>
<path d="M101 739 L101 731 M101 731 L331 864 Q336 866 340 863 L350 857" fill="none" stroke="#000" stroke-width="1.34" stroke-linejoin="round" stroke-linecap="round"/>
<path d="M119 749 L119 744 M140 770 L141 762 M152 775 L150 769" fill="none" stroke="#000" stroke-width="1.22" stroke-linejoin="round" stroke-linecap="round"/>
<path d="M172 749 Q178 742 186 745 Q192 749 190 757 L186 761" fill="#fff" stroke="#000" stroke-width="1.34" stroke-linejoin="round" stroke-linecap="round"/>
<path d="M178 746 Q184 747 186 754" fill="none" stroke="#000" stroke-width="1.22" stroke-linejoin="round" stroke-linecap="round"/>
<path d="M160 759 Q163 754 167 757 L168 762 M183 770 Q186 765 190 768 L191 773" fill="none" stroke="#000" stroke-width="1.22" stroke-linejoin="round" stroke-linecap="round"/>
<path d="M236 787 Q240 782 245 785 L247 790 M298 826 Q301 821 305 824 L306 829" fill="none" stroke="#000" stroke-width="1.22" stroke-linejoin="round" stroke-linecap="round"/>
<path d="M276 846 Q279 841 284 842 Q289 846 287 852 L283 857 M279 848 Q283 847 285 851" fill="none" stroke="#000" stroke-width="1.22" stroke-linejoin="round" stroke-linecap="round"/>
<path d="M129 762 L129 767 Q131.5 769 134 767 L134 764" fill="#fff" stroke="#000" stroke-width="1.22" stroke-linejoin="round" stroke-linecap="round"/>
<path d="M314 869 L314 874 Q317 876 320 874 L320 871" fill="#fff" stroke="#000" stroke-width="1.22" stroke-linejoin="round" stroke-linecap="round"/>
<line x1="352" y1="867" x2="376" y2="867" stroke="#000" stroke-width="1.46"/>
<polyline points="131,769 131,789 317,894" fill="none" stroke="#000" stroke-width="1.46" stroke-linejoin="round" stroke-linecap="round" stroke-dasharray="5.5 3.5"/>
<line x1="317" y1="876" x2="317" y2="932" stroke="#000" stroke-width="1.46" stroke-dasharray="5.5 3.5"/>
<polyline points="247,790 288,779 288,798 302,794" fill="none" stroke="#000" stroke-width="1.46" stroke-linejoin="round" stroke-linecap="round" stroke-dasharray="5.5 3.5"/>
<ellipse cx="307" cy="793" rx="2.6" ry="4.2" fill="none" stroke="#000" stroke-width="2.2" transform="rotate(-15 307 793)"/>
<path d="M314 792 Q314 787 319 786 L331 783 L333 780 L343 777 L347 781 L347 789 L343 792 L334 794 L332 792 L320 795 Q315 796 314 792 Z" fill="#fff" stroke="#000" stroke-width="1.46" stroke-linejoin="round" stroke-linecap="round"/>
<path d="M320 786 L321 795 M327 784 L328 793 M330 783 L331 793 M333 782 L334 793 M336 781 L337 792 M343 777 L343 791" fill="none" stroke="#000" stroke-width="1.22" stroke-linejoin="round" stroke-linecap="round"/>
<line x1="349" y1="783" x2="376" y2="783" stroke="#000" stroke-width="1.46"/>
<polyline points="309,797 350,826 361,826" fill="none" stroke="#000" stroke-width="1.46" stroke-linejoin="round" stroke-linecap="round"/>
<path d="M311 109 Q311 104 319 104 Q327 104 327 109 Q327 113 324 115 L323 119 L323 126 L316 126 L316 119 L315 115 Q311 113 311 109 Z" fill="#fff" stroke="#000" stroke-width="1.46" stroke-linejoin="round" stroke-linecap="round"/>
<path d="M312 110 Q319 114 326 110 M316 119 L323 119 M316 122 L323 122" fill="none" stroke="#000" stroke-width="1.22" stroke-linejoin="round" stroke-linecap="round"/>
<line x1="328" y1="110" x2="360" y2="110" stroke="#000" stroke-width="1.46" stroke-dasharray="3 0.7"/>
<ellipse cx="319.5" cy="152" rx="5" ry="2.4" fill="none" stroke="#000" stroke-width="2.44"/>
<line x1="326" y1="152" x2="362" y2="152" stroke="#000" stroke-width="1.71"/>
<path d="M305 942 Q305 935 317.5 934 Q330 935 330 942 Q330 947 326 948 L325 951 Q317 955 310 951 L309 948 Q305 947 305 942 Z" fill="#fff" stroke="#000" stroke-width="1.46" stroke-linejoin="round" stroke-linecap="round"/>
<path d="M306 943 Q317 950 329 943" fill="none" stroke="#000" stroke-width="1.22" stroke-linejoin="round" stroke-linecap="round"/>
<ellipse cx="317.5" cy="938.5" rx="5" ry="2" fill="none" stroke="#000" stroke-width="1.22"/>
<line x1="331" y1="943" x2="360" y2="943" stroke="#000" stroke-width="1.46" stroke-dasharray="3 0.7"/>
</g>
<g id="hoses">
<polyline points="348,203 433,179 528,231 566,221" fill="none" stroke="#000" stroke-width="1.46" stroke-linejoin="round" stroke-linecap="round" stroke-dasharray="5.5 3.5"/>
<path d="M655 60 L674 49.5 L678 57 L659 67.5 Q655 68 654 64 Q653.5 61 655 60 Z" fill="#fff" stroke="#000" stroke-width="1.46" stroke-linejoin="round" stroke-linecap="round"/>
<ellipse cx="656.5" cy="64" rx="2.6" ry="4" fill="none" stroke="#000" stroke-width="1.22" transform="rotate(-30 656.5 64)"/>
<path d="M677 36 L683 30 Q687 28 689 31 L688 37 L692 33 L697 30 Q701 31 700 35 L694 42" fill="#fff" stroke="#000" stroke-width="1.46" stroke-linejoin="round" stroke-linecap="round"/>
<path d="M680 44 Q676 40 677 36 M683 31 Q684 38 688 42" fill="none" stroke="#000" stroke-width="1.22" stroke-linejoin="round" stroke-linecap="round"/>
<path d="M675 50 Q676 42 684 42 L694 42 L716 36 Q722 42 726 63 L716 66 Q706 62 698 66 Q710 80 725 84 L742 80 L748 78 L756 74 L757 86 L740 92 Q722 96 708 90 Q690 82 680 66 Q675 58 675 50 Z" fill="#fff" stroke="#000" stroke-width="1.46" stroke-linejoin="round" stroke-linecap="round"/>
<path d="M690 50 Q700 66 706 74 Q712 80 720 78 M688 62 Q700 56 718 56 M682 68 Q686 72 684 76" fill="none" stroke="#000" stroke-width="1.22" stroke-linejoin="round" stroke-linecap="round"/>
<path d="M714 32 Q716 26 721 27 Q726 30 728 42 Q731 54 729 62 Q727 66 723 64 Q722 60 724 56 Q724 44 720 36 Q716 36 714 32 Z" fill="#fff" stroke="#000" stroke-width="1.46" stroke-linejoin="round" stroke-linecap="round"/>
<ellipse cx="719.5" cy="31" rx="2" ry="2.6" fill="none" stroke="#000" stroke-width="1.22"/>
<ellipse cx="726" cy="60" rx="2" ry="2.6" fill="none" stroke="#000" stroke-width="1.22"/>
<path d="M754 71 L772 66 L776 60 Q781 56 785 60 Q788 64 787 70 L786 80 Q784 86 779 87 L758 93 L752 90 Z" fill="#fff" stroke="#000" stroke-width="1.46" stroke-linejoin="round" stroke-linecap="round"/>
<path d="M756 74 L754 88 M772 66 L772 88 M779 62 Q783 63 783 68 M776 78 L776 84 L779 83 L779 78 Z" fill="none" stroke="#000" stroke-width="1.22" stroke-linejoin="round" stroke-linecap="round"/>
<path d="M722 95 Q724 84 736 80 Q748 78 752 86 L752 94 Q750 102 744 104 Q738 108 732 106 Z" fill="#fff" stroke="#000" stroke-width="1.46" stroke-linejoin="round" stroke-linecap="round"/>
<ellipse cx="731.5" cy="98" rx="7.5" ry="9" fill="#fff" stroke="#000" stroke-width="1.46" transform="rotate(20 731.5 98)"/>
<ellipse cx="731.5" cy="98" rx="5" ry="6.5" fill="none" stroke="#000" stroke-width="1.22" transform="rotate(20 731.5 98)"/>
<path d="M742 82 Q748 88 746 98 Q744 104 740 105" fill="none" stroke="#000" stroke-width="1.22" stroke-linejoin="round" stroke-linecap="round"/>
<line x1="787.5" y1="72" x2="820" y2="72" stroke="#000" stroke-width="1.46" stroke-dasharray="3 0.7"/>
<line x1="644" y1="106.5" x2="686" y2="106.5" stroke="#000" stroke-width="1.59"/>
<path d="M686 106 L692 101 L699 110 L693 115 Z" fill="#fff" stroke="#000" stroke-width="1.46" stroke-linejoin="round" stroke-linecap="round"/>
<ellipse cx="704" cy="124" rx="14" ry="12.5" fill="#fff" stroke="#000" stroke-width="1.59" transform="rotate(25 704 124)"/>
<ellipse cx="700.5" cy="125.5" rx="11.5" ry="11.5" fill="#fff" stroke="#000" stroke-width="1.46" transform="rotate(25 700.5 125.5)"/>
<path d="M696 117 Q700 124 705 131 M706 114 Q708 108 713 104 L710 114" fill="none" stroke="#000" stroke-width="1.34" stroke-linejoin="round" stroke-linecap="round"/>
<path d="M673.5 137 Q662 138 656 150 Q650 158 648.5 165 Q647 175 643.5 178.7 Q638 184 631 186 L616 192.5 Q609 196 611 206 Q614 216 621 215 L636 210 Q650 205 656 200 Q664 194 666 187.5 Q667 178 671 172.5 Q680 166 683.5 160 Q688 152 687 147.5 Q684 138 673.5 137 Z" fill="#fff" stroke="#000" stroke-width="1.59" stroke-linejoin="round" stroke-linecap="round"/>
<ellipse cx="617.5" cy="204" rx="6.5" ry="11.5" fill="#fff" stroke="#000" stroke-width="1.46" transform="rotate(-18 617.5 204)"/>
<ellipse cx="618" cy="204" rx="4.8" ry="9.5" fill="none" stroke="#000" stroke-width="1.22" transform="rotate(-18 618 204)"/>
<line x1="611" y1="165" x2="647.5" y2="165" stroke="#000" stroke-width="1.59"/>
<path d="M579 203 L591 198.5 Q597 205 596.5 215 Q595 226 588 229.5 L581 229.5" fill="#fff" stroke="#000" stroke-width="1.59" stroke-linejoin="round" stroke-linecap="round"/>
<path d="M588 199.5 L593 197 L592.5 204 M586 216 L602 214" fill="none" stroke="#000" stroke-width="1.83" stroke-linejoin="round" stroke-linecap="round"/>
<ellipse cx="577.5" cy="216" rx="8.2" ry="13.2" fill="#fff" stroke="#000" stroke-width="1.71" transform="rotate(-12 577.5 216)"/>
<path d="M581 208 Q578.5 216 582 225 M583.5 207 Q581 216 584.5 224" fill="none" stroke="#000" stroke-width="1.34" stroke-linejoin="round" stroke-linecap="round"/>
<line x1="584.5" y1="230" x2="584.5" y2="246" stroke="#000" stroke-width="1.59"/>
<line x1="614" y1="369.5" x2="656" y2="369.5" stroke="#000" stroke-width="1.46" stroke-dasharray="3 0.7"/>
<path d="M660 375 L660 395 Q670 400 681 397 L681 380" fill="#fff" stroke="#000" stroke-width="1.46" stroke-linejoin="round" stroke-linecap="round"/>
<path d="M656 367.5 L668 347 Q672 342 678 345 L692 349 Q696 352 696 358 L697 374 Q694 382 684 385 Q668 384 660 376 Z" fill="#fff" stroke="#000" stroke-width="1.59" stroke-linejoin="round" stroke-linecap="round"/>
<path d="M662 366 Q664 352 674 349 Q688 350 692 360 Q692 374 682 378 Q668 378 662 366 Z" fill="none" stroke="#000" stroke-width="1.34" stroke-linejoin="round" stroke-linecap="round"/>
<ellipse cx="678" cy="360" rx="9" ry="8" fill="none" stroke="#000" stroke-width="1.34" transform="rotate(20 678 360)"/>
<ellipse cx="680" cy="356" rx="6" ry="5" fill="#fff" stroke="#000" stroke-width="1.34" transform="rotate(20 680 356)"/>
<ellipse cx="682" cy="352" rx="4" ry="3" fill="#fff" stroke="#000" stroke-width="1.34"/>
<ellipse cx="684" cy="349" rx="2" ry="1.6" fill="none" stroke="#000" stroke-width="1.22"/>
<path d="M668 356 Q672 366 680 370 M672 352 Q670 360 674 366 M666 362 Q670 372 682 375 M688 354 Q692 362 688 370 M676 347 Q684 346 690 352" fill="none" stroke="#000" stroke-width="1.34" stroke-linejoin="round" stroke-linecap="round"/>
<line x1="611" y1="425" x2="645" y2="425" stroke="#000" stroke-width="1.59"/>
<path d="M645 418 L651 417 L651 429 L645 429 Z" fill="#fff" stroke="#000" stroke-width="1.46" stroke-linejoin="round" stroke-linecap="round"/>
<path d="M651 424 Q651 417.5 663.5 417.5 Q676 418 676.5 425 L676.5 431 Q674 437 663 437 Q652 436 651 430 Z" fill="#fff" stroke="#000" stroke-width="1.59" stroke-linejoin="round" stroke-linecap="round"/>
<path d="M651 424 Q653 431 664 431 Q675 430 676.5 425" fill="none" stroke="#000" stroke-width="1.34" stroke-linejoin="round" stroke-linecap="round"/>
<path d="M661 417.5 L661 410" fill="none" stroke="#000" stroke-width="1.34" stroke-linejoin="round" stroke-linecap="round"/>
<line x1="616" y1="475" x2="645" y2="475" stroke="#000" stroke-width="1.46" stroke-dasharray="3 0.7"/>
<path d="M647 466 Q646 478 645.4 487 Q643 494 637.4 497 Q624 503 616.7 511 Q610 520 608 535 Q605 548 597.6 554 Q590 560 580.3 564.7 Q573 568 575 578 Q578 585 589 582 Q604 576 615 568 Q624 560 627 549 Q629 532 635.7 525 Q648 518 660 511 Q668 504 669.6 493.8 L672 466 Z" fill="#fff" stroke="#000" stroke-width="1.59" stroke-linejoin="round" stroke-linecap="round"/>
<ellipse cx="659.5" cy="465.5" rx="12.5" ry="5.2" fill="#fff" stroke="#000" stroke-width="1.59" transform="rotate(3 659.5 465.5)"/>
<ellipse cx="659.5" cy="466" rx="10" ry="3.6" fill="none" stroke="#000" stroke-width="1.22" transform="rotate(3 659.5 466)"/>
<ellipse cx="582" cy="573.5" rx="6.5" ry="11" fill="#fff" stroke="#000" stroke-width="1.46" transform="rotate(-20 582 573.5)"/>
<ellipse cx="582.5" cy="573.5" rx="4.8" ry="9" fill="none" stroke="#000" stroke-width="1.22" transform="rotate(-20 582.5 573.5)"/>
<line x1="545" y1="544" x2="545" y2="571" stroke="#000" stroke-width="1.46" stroke-dasharray="3 0.7"/>
<ellipse cx="555" cy="583" rx="14.5" ry="13" fill="#fff" stroke="#000" stroke-width="1.59" transform="rotate(30 555 583)"/>
<ellipse cx="551.5" cy="584.5" rx="11" ry="12" fill="#fff" stroke="#000" stroke-width="1.46" transform="rotate(30 551.5 584.5)"/>
<path d="M552 574 Q557 582 556 594 M546 592 L541 599 L548 597 M556 599 L561 605 L567 601 L563 596" fill="none" stroke="#000" stroke-width="1.34" stroke-linejoin="round" stroke-linecap="round"/>
</g>
<g id="tank">
<line x1="1050" y1="166" x2="1082" y2="166" stroke="#000" stroke-width="1.59"/>
<line x1="1050" y1="203" x2="1082" y2="203" stroke="#000" stroke-width="1.59"/>
<line x1="1060.5" y1="170" x2="1060.5" y2="199" stroke="#000" stroke-width="1.59"/>
<polygon points="1060.5,166.5 1056,178 1065,178" fill="#000" stroke="#000" stroke-width="0.61" stroke-linejoin="round" stroke-linecap="round"/>
<polygon points="1060.5,202.5 1056,191 1065,191" fill="#000" stroke="#000" stroke-width="0.61" stroke-linejoin="round" stroke-linecap="round"/>
<path d="M1152 166 L1088.5 166 L1088.5 203 L1150 203" fill="none" stroke="#000" stroke-width="1.71" stroke-linejoin="round" stroke-linecap="round"/>
<path d="M1157 161 Q1160 172 1152 184 Q1147 196 1158 207 M1161 161 Q1164 172 1156 184 Q1151 196 1162 207" fill="none" stroke="#000" stroke-width="1.46" stroke-linejoin="round" stroke-linecap="round"/>
<line x1="1248" y1="162.5" x2="1280" y2="162.5" stroke="#000" stroke-width="1.83"/>
<line x1="1248" y1="206.5" x2="1280" y2="206.5" stroke="#000" stroke-width="1.83"/>
<line x1="1257" y1="167" x2="1257" y2="202" stroke="#000" stroke-width="1.59"/>
<polygon points="1257,163 1252,175 1262,175" fill="#000" stroke="#000" stroke-width="0.61" stroke-linejoin="round" stroke-linecap="round"/>
<polygon points="1257,206 1252,194 1262,194" fill="#000" stroke="#000" stroke-width="0.61" stroke-linejoin="round" stroke-linecap="round"/>
<path d="M1347.5 162.5 L1284 162.5 L1284 206.5 L1347.5 206.5 Z" fill="none" stroke="#000" stroke-width="1.83" stroke-linejoin="round" stroke-linecap="round"/>
<path d="M1347.5 162.5 L1357.5 166 L1357.5 203 L1347.5 206.5 M1357.5 166 L1378 166 M1357.5 203 L1376 203" fill="none" stroke="#000" stroke-width="1.71" stroke-linejoin="round" stroke-linecap="round"/>
<path d="M1380 160 Q1384 172 1375 185 Q1370 198 1382 209 M1384 160 Q1388 172 1379 185 Q1374 198 1386 209" fill="none" stroke="#000" stroke-width="1.46" stroke-linejoin="round" stroke-linecap="round"/>
<path d="M1031.3 466.2 L1088.6 270 L1083.4 268 L1097.2 254 L1103.5 273.4 L1097.6 272 L1040.3 469 Z" fill="#fff" stroke="#000" stroke-width="1.71" stroke-linejoin="round" stroke-linecap="round"/>
<polyline points="740,320 716,327 826,385" fill="none" stroke="#000" stroke-width="1.46" stroke-linejoin="round" stroke-linecap="round" stroke-dasharray="5.5 3.5"/>
<line x1="863" y1="428" x2="897" y2="445.5" stroke="#000" stroke-width="1.46" stroke-dasharray="5.5 3.5"/>
<line x1="993" y1="429" x2="1077" y2="470" stroke="#000" stroke-width="1.46" stroke-dasharray="5.5 3.5"/>
<line x1="753" y1="563" x2="1019" y2="494" stroke="#000" stroke-width="1.46" stroke-dasharray="5.5 3.5"/>
<line x1="981.5" y1="492" x2="1028" y2="517" stroke="#000" stroke-width="1.46" stroke-dasharray="5.5 3.5"/>
<line x1="881.5" y1="309" x2="881.5" y2="622" stroke="#000" stroke-width="1.59" stroke-dasharray="5 2.5"/>
<line x1="928" y1="495" x2="928" y2="585" stroke="#000" stroke-width="1.46" stroke-dasharray="5.5 3.5"/>
<line x1="746" y1="288" x2="746" y2="308" stroke="#000" stroke-width="1.46" stroke-dasharray="3 0.7"/>
<g transform="rotate(10 747 318)">
<ellipse cx="747" cy="318" rx="5.5249999999999995" ry="6.5" fill="#fff" stroke="#000" stroke-width="1.71"/>
<ellipse cx="748.5" cy="318" rx="3.9" ry="5.5249999999999995" fill="none" stroke="#000" stroke-width="1.34"/>
<path d="M746 311.5 L745 306.5 L749 307.5 L749 311.5 M749 310.5 L754 308.5 L753 313.5" fill="none" stroke="#000" stroke-width="1.46" stroke-linejoin="round" stroke-linecap="round"/>
</g>
<g transform="rotate(-15 743 566)">
<ellipse cx="743" cy="566" rx="5.5249999999999995" ry="6.5" fill="#fff" stroke="#000" stroke-width="1.71"/>
<ellipse cx="744.5" cy="566" rx="3.9" ry="5.5249999999999995" fill="none" stroke="#000" stroke-width="1.34"/>
<path d="M742 559.5 L741 554.5 L745 555.5 L745 559.5 M745 558.5 L750 556.5 L749 561.5" fill="none" stroke="#000" stroke-width="1.46" stroke-linejoin="round" stroke-linecap="round"/>
</g>
<line x1="743" y1="574" x2="743" y2="589" stroke="#000" stroke-width="1.46" stroke-dasharray="3 0.7"/>
<line x1="881" y1="267" x2="881" y2="282" stroke="#000" stroke-width="1.59"/>
<path d="M874 286 Q874 282 881 282 Q888 282 888 286 L888 292 Q888 295 881 295 Q874 295 874 292 Z" fill="#fff" stroke="#000" stroke-width="1.59" stroke-linejoin="round" stroke-linecap="round"/>
<path d="M878 283 L878 294 M884 283 L884 294 M878 287 L884 287" fill="none" stroke="#000" stroke-width="1.22" stroke-linejoin="round" stroke-linecap="round"/>
<path d="M878 295 L878 307 L884 307 L884 295" fill="#fff" stroke="#000" stroke-width="1.34" stroke-linejoin="round" stroke-linecap="round"/>
<line x1="877.5" y1="297.5" x2="884.5" y2="297.5" stroke="#000" stroke-width="1.22"/>
<line x1="877.5" y1="300" x2="884.5" y2="300" stroke="#000" stroke-width="1.22"/>
<line x1="877.5" y1="302.5" x2="884.5" y2="302.5" stroke="#000" stroke-width="1.22"/>
<line x1="877.5" y1="305" x2="884.5" y2="305" stroke="#000" stroke-width="1.22"/>
<line x1="939" y1="360" x2="957" y2="360" stroke="#000" stroke-width="1.59"/>
<path d="M957 357 Q957 351 970.5 351 Q984 351 984 357 L984 362 Q984 367 978 368 L978 370 Q970.5 373 964 370 L964 368 Q957 367 957 362 Z" fill="#fff" stroke="#000" stroke-width="1.59" stroke-linejoin="round" stroke-linecap="round"/>
<path d="M964 368 Q970.5 370 978 368" fill="none" stroke="#000" stroke-width="1.22" stroke-linejoin="round" stroke-linecap="round"/>
<path d="M806 391 Q792 392 787 395 Q783 399 789 403 Q796 406 812 405.5 Q822 407 838 416" fill="none" stroke="#000" stroke-width="8.4" stroke-linecap="round" stroke-linejoin="round"/>
<path d="M806 391 Q792 392 787 395 Q783 399 789 403 Q796 406 812 405.5 Q822 407 838 416" fill="none" stroke="#fff" stroke-width="5.3" stroke-linecap="round" stroke-linejoin="round"/>
<ellipse cx="839" cy="416" rx="2.6" ry="4" fill="#fff" stroke="#000" stroke-width="1.34" transform="rotate(-25 839 416)"/>
<path d="M793 395 L808 394" fill="none" stroke="#000" stroke-width="1.22" stroke-linejoin="round" stroke-linecap="round"/>
<line x1="806.5" y1="406" x2="806.5" y2="422" stroke="#000" stroke-width="1.59"/>
<g transform="rotate(35 852 421.5)">
<ellipse cx="852" cy="421.5" rx="5.5249999999999995" ry="6.5" fill="#fff" stroke="#000" stroke-width="1.71"/>
<ellipse cx="853.5" cy="421.5" rx="3.9" ry="5.5249999999999995" fill="none" stroke="#000" stroke-width="1.34"/>
<path d="M851 415.0 L850 410.0 L854 411.0 L854 415.0 M854 414.0 L859 412.0 L858 417.0" fill="none" stroke="#000" stroke-width="1.46" stroke-linejoin="round" stroke-linecap="round"/>
</g>
<line x1="851" y1="429" x2="851" y2="444" stroke="#000" stroke-width="1.59"/>
<path d="M984 381 Q994 378 998 388 Q1000 398 992 406 Q989 410 989 420 L989 441 Q994 450 993 462 Q992 478 984 488 L975 498 L968 494" fill="#fff" stroke="#000" stroke-width="1.59" stroke-linejoin="round" stroke-linecap="round"/>
<path d="M984 387 Q991 386 991 394 Q990 402 985 406" fill="none" stroke="#000" stroke-width="1.34" stroke-linejoin="round" stroke-linecap="round"/>
<path d="M883 428 Q882 434 890 440 L903 456 L912 480 Q918 488 927.5 491 Q936 488 945 482 L961 491 L972 500 L978 496 L986 486 L986 445 L940 466 Z" fill="#fff" stroke="#000" stroke-width="1.59" stroke-linejoin="round" stroke-linecap="round"/>
<path d="M927.5 491 Q930 478 940 466 M945 482 L945 470 M961 491 L961 463 M961 476 L975 470 M964 484 L976 490 L979 486 L967 480 M975 470 L975 496" fill="none" stroke="#000" stroke-width="1.34" stroke-linejoin="round" stroke-linecap="round"/>
<path d="M884 424 L940 458 Q946 460 952 458 L986 441 M884 429 L940 463.5 Q946 466 952 463.5 L986 447 M883 428 L884 424" fill="none" stroke="#000" stroke-width="1.46" stroke-linejoin="round" stroke-linecap="round"/>
<path d="M884 424 L891 417 L898 412 L930 431 L940 426 L952 433 L950 440 L972 448 L986 441 M898 412 L912 406 L932 418 M940 426 L930 431" fill="none" stroke="#000" stroke-width="1.34" stroke-linejoin="round" stroke-linecap="round"/>
<path d="M873 411 Q873 408 877 408 L893 409 L900 413 L893 419 L886 418 L875 414 Z" fill="#fff" stroke="#000" stroke-width="1.46" stroke-linejoin="round" stroke-linecap="round"/>
<path d="M879 411 L884 411" fill="none" stroke="#000" stroke-width="1.22" stroke-linejoin="round" stroke-linecap="round"/>
<path d="M933 430 L933 398 Q934 392 944 389 L961 386 L961 378 Q961 375 971 375 Q981 375 981 378 L981 384 L984 386 L984 445 L962 452 L948 444 L948 432 L938 434 Z" fill="#fff" stroke="#000" stroke-width="1.59" stroke-linejoin="round" stroke-linecap="round"/>
<ellipse cx="971" cy="384.5" rx="10" ry="4.3" fill="#fff" stroke="#000" stroke-width="1.46"/>
<ellipse cx="971" cy="379.5" rx="10" ry="4.3" fill="#fff" stroke="#000" stroke-width="1.46"/>
<path d="M961 380 L961 385 M981 380 L981 385" fill="none" stroke="#000" stroke-width="1.46" stroke-linejoin="round" stroke-linecap="round"/>
<path d="M937 398 Q944 404 952 403 L974 396 M948 408 L948 444 M979 392 L979 446 M933 398 L937 398 L937 426 L922 432 L918 430" fill="none" stroke="#000" stroke-width="1.34" stroke-linejoin="round" stroke-linecap="round"/>
<path d="M958 438 L966 435 L972 440 L972 444 L966 441 L964 448 M950 447 L956 446 L958 450" fill="none" stroke="#000" stroke-width="1.22" stroke-linejoin="round" stroke-linecap="round"/>
<ellipse cx="1029.5" cy="488" rx="9" ry="9.5" fill="#fff" stroke="#000" stroke-width="1.71"/>
<path d="M1032 484 Q1026 483 1025.5 488 Q1026 493 1031 492 M1029 486 L1033 490" fill="none" stroke="#000" stroke-width="1.34" stroke-linejoin="round" stroke-linecap="round"/>
<path d="M1053 477.5 L1044 481 Q1041 486 1043 494 Q1046 506 1058 510 Q1068 514 1068 522 Q1068 530 1060 531.5 L1052 528" fill="none" stroke="#000" stroke-width="8" stroke-linecap="round" stroke-linejoin="round"/>
<path d="M1053 477.5 L1044 481 Q1041 486 1043 494 Q1046 506 1058 510 Q1068 514 1068 522 Q1068 530 1060 531.5 L1052 528" fill="none" stroke="#fff" stroke-width="4.9" stroke-linecap="round" stroke-linejoin="round"/>
<ellipse cx="1051" cy="528" rx="2.6" ry="3.6" fill="#fff" stroke="#000" stroke-width="1.22" transform="rotate(20 1051 528)"/>
<line x1="1073" y1="527" x2="1096" y2="527" stroke="#000" stroke-width="1.46" stroke-dasharray="3 0.7"/>
<g transform="rotate(-20 1033.5 522)">
<ellipse cx="1033.5" cy="522" rx="5.1" ry="6" fill="#fff" stroke="#000" stroke-width="1.71"/>
<ellipse cx="1035.0" cy="522" rx="3.5999999999999996" ry="5.1" fill="none" stroke="#000" stroke-width="1.34"/>
<path d="M1032.5 516 L1031.5 511 L1035.5 512 L1035.5 516 M1035.5 515 L1040.5 513 L1039.5 518" fill="none" stroke="#000" stroke-width="1.46" stroke-linejoin="round" stroke-linecap="round"/>
</g>
<line x1="1033" y1="530" x2="1033" y2="546" stroke="#000" stroke-width="1.46" stroke-dasharray="3 0.7"/>
<polygon points="1078,468 1110,459 1110,475 1078,483.5" fill="#fff" stroke="#000" stroke-width="1.59" stroke-linejoin="round" stroke-linecap="round"/>
<polygon points="1093,487.5 1111,482.5 1111,492.5 1093,498" fill="#fff" stroke="#000" stroke-width="1.59" stroke-linejoin="round" stroke-linecap="round"/>
<polyline points="1129,415 1117,415 1094,463" fill="none" stroke="#000" stroke-width="1.59" stroke-linejoin="round" stroke-linecap="round"/>
<line x1="1112" y1="488" x2="1138" y2="488" stroke="#000" stroke-width="1.59"/>
<path d="M917 592 Q917 587 927.5 587 Q938 587 938 592 Q938 596 934 597 L933 600 Q927.5 602 922 600 L921 597 Q917 596 917 592 Z" fill="#fff" stroke="#000" stroke-width="1.46" stroke-linejoin="round" stroke-linecap="round"/>
<ellipse cx="927.5" cy="590.5" rx="5" ry="2" fill="none" stroke="#000" stroke-width="1.22"/>
<line x1="940" y1="593" x2="963" y2="593" stroke="#000" stroke-width="1.46" stroke-dasharray="3 0.7"/>
</g>
<g id="fans">
<line x1="588" y1="748" x2="619" y2="748" stroke="#000" stroke-width="1.46" stroke-dasharray="3 0.7"/>
<g transform="matrix(48.7 19 0 70.9 666.7 782.4)" fill="none" stroke="#000" stroke-linecap="round" stroke-linejoin="round">
<ellipse cx="0" cy="0" rx="1.0" ry="1.0" fill="#fff" stroke-width="2.07" vector-effect="non-scaling-stroke"/>
<ellipse cx="0" cy="0" rx="0.95" ry="0.95" fill="none" stroke-width="1.34" vector-effect="non-scaling-stroke"/>
<ellipse cx="0" cy="0" rx="0.905" ry="0.905" fill="none" stroke-width="1.46" vector-effect="non-scaling-stroke"/>
<path d="M0.266 0.047 Q0.599 0.042 0.839 0.339 M0.506 0.750 Q0.415 0.461 0.213 0.166" fill="none" stroke-width="1.46" vector-effect="non-scaling-stroke"/>
<path d="M0.346 0.200 Q0.489 0.382 0.514 0.613" fill="none" stroke-width="1.22" vector-effect="non-scaling-stroke"/>
<path d="M0.129 0.237 Q0.340 0.494 0.258 0.867 M-0.271 0.863 Q-0.102 0.612 0.003 0.270" fill="none" stroke-width="1.46" vector-effect="non-scaling-stroke"/>
<path d="M0.060 0.396 Q0.006 0.620 -0.159 0.784" fill="none" stroke-width="1.22" vector-effect="non-scaling-stroke"/>
<path d="M-0.105 0.249 Q-0.174 0.574 -0.517 0.743 M-0.844 0.326 Q-0.542 0.302 -0.209 0.170" fill="none" stroke-width="1.46" vector-effect="non-scaling-stroke"/>
<path d="M-0.272 0.293 Q-0.481 0.391 -0.712 0.365" fill="none" stroke-width="1.22" vector-effect="non-scaling-stroke"/>
<path d="M-0.260 0.073 Q-0.557 0.222 -0.903 0.059 M-0.781 -0.456 Q-0.574 -0.235 -0.264 -0.057" fill="none" stroke-width="1.46" vector-effect="non-scaling-stroke"/>
<path d="M-0.399 -0.030 Q-0.606 -0.132 -0.729 -0.329" fill="none" stroke-width="1.22" vector-effect="non-scaling-stroke"/>
<path d="M-0.219 -0.158 Q-0.521 -0.297 -0.609 -0.670 M-0.130 -0.896 Q-0.174 -0.595 -0.120 -0.242" fill="none" stroke-width="1.46" vector-effect="non-scaling-stroke"/>
<path d="M-0.225 -0.330 Q-0.275 -0.556 -0.197 -0.775" fill="none" stroke-width="1.22" vector-effect="non-scaling-stroke"/>
<path d="M-0.013 -0.270 Q-0.092 -0.593 0.144 -0.894 M0.619 -0.660 Q0.357 -0.507 0.115 -0.244" fill="none" stroke-width="1.46" vector-effect="non-scaling-stroke"/>
<path d="M0.118 -0.382 Q0.263 -0.561 0.483 -0.638" fill="none" stroke-width="1.22" vector-effect="non-scaling-stroke"/>
<path d="M0.202 -0.179 Q0.406 -0.442 0.788 -0.445 M0.902 0.072 Q0.619 -0.037 0.263 -0.063" fill="none" stroke-width="1.46" vector-effect="non-scaling-stroke"/>
<path d="M0.372 -0.146 Q0.603 -0.144 0.800 -0.020" fill="none" stroke-width="1.22" vector-effect="non-scaling-stroke"/>
</g>
<g transform="matrix(48.7 19 0 70.9 668.83 779.5)" fill="none" stroke="#000" stroke-linecap="round" stroke-linejoin="round">
<ellipse cx="0" cy="0" rx="0.235" ry="0.235" fill="#fff" stroke-width="1.34" vector-effect="non-scaling-stroke"/>
</g>
<g transform="matrix(48.7 19 0 70.9 661.83 782.0)" fill="none" stroke="#000" stroke-linecap="round" stroke-linejoin="round">
<ellipse cx="0" cy="0" rx="0.25" ry="0.25" fill="#fff" stroke-width="1.71" vector-effect="non-scaling-stroke"/>
<path d="M0.022 -0.061 A0.065 0.065 0 1 0 0.022 0.061" fill="none" stroke-width="1.71" vector-effect="non-scaling-stroke"/>
</g>
<line x1="783" y1="921" x2="783" y2="950" stroke="#000" stroke-width="1.46" stroke-dasharray="3 0.7"/>
<g transform="matrix(48.2 22 0 71 775.5 846)" fill="none" stroke="#000" stroke-linecap="round" stroke-linejoin="round">
<ellipse cx="0" cy="0" rx="1.0" ry="1.0" fill="#fff" stroke-width="2.07" vector-effect="non-scaling-stroke"/>
<ellipse cx="0" cy="0" rx="0.95" ry="0.95" fill="none" stroke-width="1.34" vector-effect="non-scaling-stroke"/>
<ellipse cx="0" cy="0" rx="0.905" ry="0.905" fill="none" stroke-width="1.46" vector-effect="non-scaling-stroke"/>
<path d="M0.254 0.092 Q0.582 0.145 0.784 0.452 M0.126 0.896 Q0.212 0.583 0.135 0.234" fill="none" stroke-width="1.46" vector-effect="non-scaling-stroke"/>
<path d="M0.246 0.315 Q0.310 0.537 0.194 0.776" fill="none" stroke-width="1.22" vector-effect="non-scaling-stroke"/>
<path d="M-0.009 0.270 Q0.042 0.599 -0.188 0.885 M-0.813 0.397 Q-0.489 0.382 -0.181 0.201" fill="none" stroke-width="1.46" vector-effect="non-scaling-stroke"/>
<path d="M-0.224 0.332 Q-0.415 0.461 -0.678 0.424" fill="none" stroke-width="1.22" vector-effect="non-scaling-stroke"/>
<path d="M-0.260 0.074 Q-0.556 0.225 -0.900 0.095 M-0.629 -0.651 Q-0.514 -0.347 -0.247 -0.110" fill="none" stroke-width="1.46" vector-effect="non-scaling-stroke"/>
<path d="M-0.385 -0.110 Q-0.566 -0.252 -0.613 -0.514" fill="none" stroke-width="1.22" vector-effect="non-scaling-stroke"/>
<path d="M-0.151 -0.224 Q-0.386 -0.460 -0.368 -0.827 M0.425 -0.799 Q0.171 -0.596 0.028 -0.269" fill="none" stroke-width="1.46" vector-effect="non-scaling-stroke"/>
<path d="M-0.014 -0.400 Q0.065 -0.617 0.300 -0.742" fill="none" stroke-width="1.22" vector-effect="non-scaling-stroke"/>
<path d="M0.166 -0.213 Q0.318 -0.509 0.673 -0.606 M0.891 0.157 Q0.620 -0.022 0.264 -0.056" fill="none" stroke-width="1.46" vector-effect="non-scaling-stroke"/>
<path d="M0.376 -0.137 Q0.606 -0.129 0.798 0.056" fill="none" stroke-width="1.22" vector-effect="non-scaling-stroke"/>
</g>
<g transform="matrix(48.2 22 0 71 777.68 842.8)" fill="none" stroke="#000" stroke-linecap="round" stroke-linejoin="round">
<ellipse cx="0" cy="0" rx="0.235" ry="0.235" fill="#fff" stroke-width="1.34" vector-effect="non-scaling-stroke"/>
</g>
<g transform="matrix(48.2 22 0 71 770.68 845.3)" fill="none" stroke="#000" stroke-linecap="round" stroke-linejoin="round">
<ellipse cx="0" cy="0" rx="0.25" ry="0.25" fill="#fff" stroke-width="1.71" vector-effect="non-scaling-stroke"/>
<path d="M0.022 -0.061 A0.065 0.065 0 1 0 0.022 0.061" fill="none" stroke-width="1.71" vector-effect="non-scaling-stroke"/>
</g>
<ellipse cx="596" cy="804" rx="6.2" ry="6.8" fill="#fff" stroke="#000" stroke-width="1.83"/>
<path d="M593 800 L598 799 L600 804 L596 805 L593 800 M596 805 L595 809" fill="none" stroke="#000" stroke-width="1.34" stroke-linejoin="round" stroke-linecap="round"/>
<line x1="595" y1="812" x2="595" y2="845" stroke="#000" stroke-width="1.46" stroke-dasharray="3 0.7"/>
<ellipse cx="709" cy="866" rx="6.2" ry="6.8" fill="#fff" stroke="#000" stroke-width="1.83"/>
<path d="M706 862 L711 861 L713 866 L709 867 L706 862 M709 867 L708 871" fill="none" stroke="#000" stroke-width="1.34" stroke-linejoin="round" stroke-linecap="round"/>
<line x1="708" y1="874" x2="708" y2="912" stroke="#000" stroke-width="1.46" stroke-dasharray="3 0.7"/>
<path d="M1037 722 L1046 724 Q1052 726 1054 733 Q1062 742 1064 760 L1066 790 L1078 794 Q1082 798 1078 802 L1066 806 L1064 826 L1072 832 Q1076 838 1070 842 L1060 846 Q1054 866 1044 876 L1050 884 Q1050 892 1042 892 L1037 890 Z" fill="#fff" stroke="#000" stroke-width="1.46" stroke-linejoin="round" stroke-linecap="round"/>
<path d="M1040 738 Q1052 744 1056 770 Q1060 810 1050 846 Q1046 862 1038 872 M1044 730 Q1056 740 1050 752 L1042 756" fill="none" stroke="#000" stroke-width="1.34" stroke-linejoin="round" stroke-linecap="round"/>
<path d="M806 599 L806 787 L820 790 L820 599 Z" fill="#fff" stroke="#000" stroke-width="1.59" stroke-linejoin="round" stroke-linecap="round"/>
<line x1="810" y1="600" x2="810" y2="788" stroke="#000" stroke-width="2.2"/>
<line x1="814" y1="600" x2="814" y2="789" stroke="#000" stroke-width="1.22"/>
<path d="M820 598 L823 595 L1037 718 L1037 919 L819.5 789 Z" fill="#fff" stroke="#000" stroke-width="1.59" stroke-linejoin="round" stroke-linecap="round"/>
<path d="M829 598 L833 588 Q836 585 840 587 L846 602 L846 608" fill="#fff" stroke="#000" stroke-width="1.46" stroke-linejoin="round" stroke-linecap="round"/>
<ellipse cx="837" cy="592" rx="1.6" ry="2.2" fill="none" stroke="#000" stroke-width="1.22"/>
<path d="M935 656 L935 647 L940 645 L948 650 L950 664" fill="#fff" stroke="#000" stroke-width="1.46" stroke-linejoin="round" stroke-linecap="round"/>
<path d="M940 646 L940 656 M944 649 L944 658" fill="none" stroke="#000" stroke-width="1.22" stroke-linejoin="round" stroke-linecap="round"/>
<path d="M902 640 L904 633 L911 631 L916 636 L914 646" fill="#fff" stroke="#000" stroke-width="1.34" stroke-linejoin="round" stroke-linecap="round"/>
<path d="M1018 706 L1022 695 Q1026 693 1029 696 L1033 712" fill="#fff" stroke="#000" stroke-width="1.46" stroke-linejoin="round" stroke-linecap="round"/>
<ellipse cx="1026" cy="700" rx="1.4" ry="2" fill="none" stroke="#000" stroke-width="1.22"/>
<line x1="821" y1="601.5" x2="1037" y2="725.5" stroke="#000" stroke-width="1.46"/>
<line x1="820" y1="784.5" x2="1037" y2="914" stroke="#000" stroke-width="1.46"/>
<path d="M837 800 L837 812 L842 815 L842 821 L846 822 L846 806" fill="#fff" stroke="#000" stroke-width="1.46" stroke-linejoin="round" stroke-linecap="round"/>
<path d="M1020 909 L1023 922 L1030 926 L1030 915" fill="#fff" stroke="#000" stroke-width="1.46" stroke-linejoin="round" stroke-linecap="round"/>
<line x1="928.5" y1="660" x2="928.5" y2="853" stroke="#000" stroke-width="1.59"/>
<path d="M824 604 L846 640 M931 664 L952 712" fill="none" stroke="#000" stroke-width="1.34" stroke-linejoin="round" stroke-linecap="round"/>
<ellipse cx="838" cy="622" rx="5" ry="7" fill="none" stroke="#000" stroke-width="1.34" transform="rotate(-20 838 622)"/>
<ellipse cx="826" cy="769" rx="5" ry="7" fill="none" stroke="#000" stroke-width="1.34" transform="rotate(-20 826 769)"/>
<path d="M946 836 Q942 828 948 826 Q954 828 952 836 M952 830 L962 822" fill="none" stroke="#000" stroke-width="1.34" stroke-linejoin="round" stroke-linecap="round"/>
<line x1="1034.5" y1="723" x2="1034.5" y2="917" stroke="#000" stroke-width="1.95"/>
<line x1="1038.5" y1="722" x2="1038.5" y2="918" stroke="#000" stroke-width="1.22"/>
<clipPath id="r1c"><polygon points="800,580 928,580 928,998 800,998"/></clipPath>
<g clip-path="url(#r1c)">
<g transform="matrix(56 30 0 85.5 884.6 723.2)" fill="none" stroke="#000" stroke-linecap="round" stroke-linejoin="round">
<ellipse cx="0" cy="0" rx="1.0" ry="1.0" fill="#fff" stroke-width="1.83" vector-effect="non-scaling-stroke"/>
<ellipse cx="0" cy="0" rx="0.95" ry="0.95" fill="none" stroke-width="1.22" vector-effect="non-scaling-stroke"/>
<ellipse cx="0" cy="0" rx="0.89" ry="0.89" fill="none" stroke-width="1.46" vector-effect="non-scaling-stroke"/>
</g>
<g transform="matrix(56 30 0 85.5 897 720)" fill="none" stroke="#000" stroke-linecap="round" stroke-linejoin="round">
<path d="M0.437 -0.054 L0.660 0.038 M0.437 0.054 L0.660 0.192" fill="none" stroke-width="1.34" vector-effect="non-scaling-stroke"/>
<path d="M0.385 0.213 L0.537 0.571 M0.322 0.300 L0.446 0.696" fill="none" stroke-width="1.34" vector-effect="non-scaling-stroke"/>
<path d="M0.186 0.399 L0.124 0.930 M0.084 0.432 L-0.022 0.977" fill="none" stroke-width="1.34" vector-effect="non-scaling-stroke"/>
<path d="M-0.084 0.432 L-0.421 0.977 M-0.186 0.399 L-0.567 0.930" fill="none" stroke-width="1.34" vector-effect="non-scaling-stroke"/>
<path d="M-0.322 0.300 L-0.889 0.696 M-0.385 0.213 L-0.980 0.571" fill="none" stroke-width="1.34" vector-effect="non-scaling-stroke"/>
<path d="M-0.437 0.054 L-1.103 0.192 M-0.437 -0.054 L-1.103 0.038" fill="none" stroke-width="1.34" vector-effect="non-scaling-stroke"/>
<path d="M-0.385 -0.213 L-0.980 -0.341 M-0.322 -0.300 L-0.889 -0.465" fill="none" stroke-width="1.34" vector-effect="non-scaling-stroke"/>
<path d="M-0.186 -0.399 L-0.567 -0.700 M-0.084 -0.432 L-0.421 -0.747" fill="none" stroke-width="1.34" vector-effect="non-scaling-stroke"/>
<path d="M0.084 -0.432 L-0.022 -0.747 M0.186 -0.399 L0.124 -0.700" fill="none" stroke-width="1.34" vector-effect="non-scaling-stroke"/>
<path d="M0.322 -0.300 L0.446 -0.465 M0.385 -0.213 L0.537 -0.341" fill="none" stroke-width="1.34" vector-effect="non-scaling-stroke"/>
<ellipse cx="0" cy="0" rx="0.455" ry="0.455" fill="#fff" stroke-width="1.59" vector-effect="non-scaling-stroke"/>
<ellipse cx="0" cy="0" rx="0.32" ry="0.32" fill="none" stroke-width="1.46" vector-effect="non-scaling-stroke"/>
<path d="M-0.063 0.355 A0.36 0.36 0 0 1 -0.338 -0.123" fill="none" stroke-width="1.22" vector-effect="non-scaling-stroke"/>
</g>
</g>
<path d="M905 652 Q918 654 922 668 Q926 690 920 704 M914 700 Q920 706 928 700" fill="none" stroke="#000" stroke-width="1.34" stroke-linejoin="round" stroke-linecap="round"/>
<clipPath id="r2c"><polygon points="900,600 1034.5,600 1034.5,998 900,998"/></clipPath>
<g clip-path="url(#r2c)">
<g transform="matrix(55 30.2 0 83.4 996 789)" fill="none" stroke="#000" stroke-linecap="round" stroke-linejoin="round">
<ellipse cx="0" cy="0" rx="1.0" ry="1.0" fill="#fff" stroke-width="1.83" vector-effect="non-scaling-stroke"/>
<ellipse cx="0" cy="0" rx="0.955" ry="0.955" fill="none" stroke-width="1.22" vector-effect="non-scaling-stroke"/>
<ellipse cx="0" cy="0" rx="0.9" ry="0.9" fill="none" stroke-width="1.46" vector-effect="non-scaling-stroke"/>
<path d="M0.640 -0.154 L0.889 -0.047 M0.640 -0.074 L0.889 0.047" fill="none" stroke-width="1.34" vector-effect="non-scaling-stroke"/>
<path d="M0.599 0.081 L0.793 0.404 M0.559 0.150 L0.746 0.485" fill="none" stroke-width="1.34" vector-effect="non-scaling-stroke"/>
<path d="M0.446 0.263 L0.485 0.746 M0.376 0.303 L0.404 0.793" fill="none" stroke-width="1.34" vector-effect="non-scaling-stroke"/>
<path d="M0.222 0.344 L0.047 0.889 M0.142 0.344 L-0.047 0.889" fill="none" stroke-width="1.34" vector-effect="non-scaling-stroke"/>
<path d="M-0.013 0.303 L-0.404 0.793 M-0.082 0.263 L-0.485 0.746" fill="none" stroke-width="1.34" vector-effect="non-scaling-stroke"/>
<path d="M-0.195 0.150 L-0.746 0.485 M-0.235 0.081 L-0.793 0.404" fill="none" stroke-width="1.34" vector-effect="non-scaling-stroke"/>
<path d="M-0.276 -0.074 L-0.889 0.047 M-0.276 -0.154 L-0.889 -0.047" fill="none" stroke-width="1.34" vector-effect="non-scaling-stroke"/>
<path d="M-0.235 -0.308 L-0.793 -0.404 M-0.195 -0.378 L-0.746 -0.485" fill="none" stroke-width="1.34" vector-effect="non-scaling-stroke"/>
<path d="M-0.082 -0.491 L-0.485 -0.746 M-0.013 -0.531 L-0.404 -0.793" fill="none" stroke-width="1.34" vector-effect="non-scaling-stroke"/>
<path d="M0.142 -0.572 L-0.047 -0.889 M0.222 -0.572 L0.047 -0.889" fill="none" stroke-width="1.34" vector-effect="non-scaling-stroke"/>
<path d="M0.376 -0.531 L0.404 -0.793 M0.446 -0.491 L0.485 -0.746" fill="none" stroke-width="1.34" vector-effect="non-scaling-stroke"/>
<path d="M0.559 -0.378 L0.746 -0.485 M0.599 -0.308 L0.793 -0.404" fill="none" stroke-width="1.34" vector-effect="non-scaling-stroke"/>
<path d="M-0.290 0.502 A0.58 0.58 0 0 1 0.051 -0.578" fill="none" stroke-width="1.22" vector-effect="non-scaling-stroke"/>
<path d="M-0.350 0.606 A0.7 0.7 0 0 1 0.061 -0.697" fill="none" stroke-width="1.22" vector-effect="non-scaling-stroke"/>
<path d="M-0.400 0.693 A0.8 0.8 0 0 1 0.070 -0.797" fill="none" stroke-width="1.22" vector-effect="non-scaling-stroke"/>
<path d="M-0.373 0.444 L-0.514 0.613" fill="none" stroke-width="1.1" vector-effect="non-scaling-stroke"/>
<path d="M-0.438 0.381 L-0.604 0.525" fill="none" stroke-width="1.1" vector-effect="non-scaling-stroke"/>
<path d="M-0.492 0.307 L-0.678 0.424" fill="none" stroke-width="1.1" vector-effect="non-scaling-stroke"/>
<path d="M-0.534 0.227 L-0.736 0.313" fill="none" stroke-width="1.1" vector-effect="non-scaling-stroke"/>
<path d="M-0.563 0.140 L-0.776 0.194" fill="none" stroke-width="1.1" vector-effect="non-scaling-stroke"/>
<path d="M-0.578 0.051 L-0.797 0.070" fill="none" stroke-width="1.1" vector-effect="non-scaling-stroke"/>
<path d="M-0.579 -0.040 L-0.798 -0.056" fill="none" stroke-width="1.1" vector-effect="non-scaling-stroke"/>
<path d="M-0.565 -0.130 L-0.779 -0.180" fill="none" stroke-width="1.1" vector-effect="non-scaling-stroke"/>
<path d="M-0.538 -0.217 L-0.742 -0.300" fill="none" stroke-width="1.1" vector-effect="non-scaling-stroke"/>
<path d="M-0.497 -0.299 L-0.686 -0.412" fill="none" stroke-width="1.1" vector-effect="non-scaling-stroke"/>
<path d="M-0.444 -0.373 L-0.613 -0.514" fill="none" stroke-width="1.1" vector-effect="non-scaling-stroke"/>
<path d="M-0.381 -0.438 L-0.525 -0.604" fill="none" stroke-width="1.1" vector-effect="non-scaling-stroke"/>
<path d="M-0.307 -0.492 L-0.424 -0.678" fill="none" stroke-width="1.1" vector-effect="non-scaling-stroke"/>
<path d="M-0.227 -0.534 L-0.313 -0.736" fill="none" stroke-width="1.1" vector-effect="non-scaling-stroke"/>
<path d="M-0.140 -0.563 L-0.194 -0.776" fill="none" stroke-width="1.1" vector-effect="non-scaling-stroke"/>
<path d="M-0.051 -0.578 L-0.070 -0.797" fill="none" stroke-width="1.1" vector-effect="non-scaling-stroke"/>
<ellipse cx="0.18181818181818182" cy="-0.11379986919555266" rx="0.45" ry="0.45" fill="#fff" stroke-width="1.59" vector-effect="non-scaling-stroke"/>
<ellipse cx="0.18181818181818182" cy="-0.11379986919555266" rx="0.4" ry="0.4" fill="none" stroke-width="1.22" vector-effect="non-scaling-stroke"/>
<ellipse cx="0.2018181818181818" cy="-0.11379986919555266" rx="0.28" ry="0.28" fill="none" stroke-width="1.46" vector-effect="non-scaling-stroke"/>
</g>
</g>
<path d="M823 595 L1037 718 L1037 725.5 L821 601.5 Z" fill="#fff" stroke="#000" stroke-width="1.46" stroke-linejoin="round" stroke-linecap="round"/>
<path d="M902 640 L904 633 L911 631 L916 636 L914 646" fill="#fff" stroke="#000" stroke-width="1.34" stroke-linejoin="round" stroke-linecap="round"/>
<line x1="786" y1="722.5" x2="897" y2="691" stroke="#000" stroke-width="1.46" stroke-dasharray="5.5 3.5"/>
<polyline points="940,903 962,897 962,812" fill="none" stroke="#000" stroke-width="1.46" stroke-linejoin="round" stroke-linecap="round" stroke-dasharray="5.5 3.5"/>
<line x1="773" y1="647" x2="805" y2="647" stroke="#000" stroke-width="1.59"/>
<polyline points="724.5,686 724.5,698 754,722" fill="none" stroke="#000" stroke-width="1.46" stroke-linejoin="round" stroke-linecap="round" stroke-dasharray="3 0.7"/>
<g transform="rotate(-15 760 729)">
<path d="M765 726 L780 726 L783 729 L780 732 L765 732 Z" fill="#fff" stroke="#000" stroke-width="1.34" stroke-linejoin="round" stroke-linecap="round"/>
<line x1="768" y1="726" x2="768" y2="732" stroke="#000" stroke-width="1.22"/>
<line x1="771" y1="726" x2="771" y2="732" stroke="#000" stroke-width="1.22"/>
<line x1="774" y1="726" x2="774" y2="732" stroke="#000" stroke-width="1.22"/>
<line x1="777" y1="726" x2="777" y2="732" stroke="#000" stroke-width="1.22"/>
<line x1="780" y1="726" x2="780" y2="732" stroke="#000" stroke-width="1.22"/>
<ellipse cx="760" cy="729" rx="6.5" ry="7" fill="#fff" stroke="#000" stroke-width="1.83"/>
<ellipse cx="759.5" cy="729" rx="4" ry="4.6" fill="none" stroke="#000" stroke-width="1.22"/>
</g>
<g transform="rotate(-15 915 910.5)">
<path d="M920 907.5 L935 907.5 L938 910.5 L935 913.5 L920 913.5 Z" fill="#fff" stroke="#000" stroke-width="1.34" stroke-linejoin="round" stroke-linecap="round"/>
<line x1="923" y1="907.5" x2="923" y2="913.5" stroke="#000" stroke-width="1.22"/>
<line x1="926" y1="907.5" x2="926" y2="913.5" stroke="#000" stroke-width="1.22"/>
<line x1="929" y1="907.5" x2="929" y2="913.5" stroke="#000" stroke-width="1.22"/>
<line x1="932" y1="907.5" x2="932" y2="913.5" stroke="#000" stroke-width="1.22"/>
<line x1="935" y1="907.5" x2="935" y2="913.5" stroke="#000" stroke-width="1.22"/>
<ellipse cx="915" cy="910.5" rx="6.5" ry="7" fill="#fff" stroke="#000" stroke-width="1.83"/>
<ellipse cx="914.5" cy="910.5" rx="4" ry="4.6" fill="none" stroke="#000" stroke-width="1.22"/>
</g>
<line x1="919.5" y1="918" x2="919.5" y2="948" stroke="#000" stroke-width="1.46" stroke-dasharray="3 0.7"/>
<line x1="1055.5" y1="664" x2="1055.5" y2="688" stroke="#000" stroke-width="1.59"/>
<g transform="rotate(165 1054 694)">
<path d="M1059 691 L1074 691 L1077 694 L1074 697 L1059 697 Z" fill="#fff" stroke="#000" stroke-width="1.34" stroke-linejoin="round" stroke-linecap="round"/>
<line x1="1062" y1="691" x2="1062" y2="697" stroke="#000" stroke-width="1.22"/>
<line x1="1065" y1="691" x2="1065" y2="697" stroke="#000" stroke-width="1.22"/>
<line x1="1068" y1="691" x2="1068" y2="697" stroke="#000" stroke-width="1.22"/>
<line x1="1071" y1="691" x2="1071" y2="697" stroke="#000" stroke-width="1.22"/>
<line x1="1074" y1="691" x2="1074" y2="697" stroke="#000" stroke-width="1.22"/>
<ellipse cx="1054" cy="694" rx="6.5" ry="7" fill="#fff" stroke="#000" stroke-width="1.83"/>
<ellipse cx="1053.5" cy="694" rx="4" ry="4.6" fill="none" stroke="#000" stroke-width="1.22"/>
</g>
</g>
<g id="motors">
<line x1="1187" y1="613" x2="1187" y2="640" stroke="#000" stroke-width="1.59"/>
<path d="M1219 682 Q1226 688 1230 698 L1238 714 Q1242 724 1250 724 L1262 720" fill="none" stroke="#000" stroke-width="5.4" stroke-linecap="round" stroke-linejoin="round"/>
<path d="M1219 682 Q1226 688 1230 698 L1238 714 Q1242 724 1250 724 L1262 720" fill="none" stroke="#fff" stroke-width="2.5" stroke-linecap="round" stroke-linejoin="round"/>
<path d="M1180 656 L1183 647 Q1186 644 1189 647 L1193 657" fill="#fff" stroke="#000" stroke-width="1.46" stroke-linejoin="round" stroke-linecap="round"/>
<ellipse cx="1186" cy="650" rx="1.5" ry="2" fill="none" stroke="#000" stroke-width="1.22"/>
<path d="M1181 655 Q1197 649 1207 663 Q1215 677 1211 693 L1205 697 L1208 703 Q1205 707 1199 705 L1183 707 Z" fill="#fff" stroke="#000" stroke-width="1.46" stroke-linejoin="round" stroke-linecap="round"/>
<path d="M1193 653 Q1207 669 1205 687 M1197 653 Q1211 671 1208 689 M1187 655 Q1199 675 1195 703" fill="none" stroke="#000" stroke-width="1.22" stroke-linejoin="round" stroke-linecap="round"/>
<ellipse cx="1204" cy="702" rx="1.6" ry="2" fill="none" stroke="#000" stroke-width="1.22"/>
<ellipse cx="1175" cy="681" rx="15.5" ry="26" fill="#fff" stroke="#000" stroke-width="2.32" transform="rotate(-8 1175 681)"/>
<ellipse cx="1176" cy="681" rx="12" ry="22" fill="none" stroke="#000" stroke-width="1.59" transform="rotate(-8 1176 681)"/>
<ellipse cx="1173" cy="683" rx="5.5" ry="7.5" fill="#fff" stroke="#000" stroke-width="2.44" transform="rotate(-8 1173 683)"/>
<ellipse cx="1173" cy="683" rx="2.2" ry="3.2" fill="#000" stroke="#000" stroke-width="2.2" transform="rotate(-8 1173 683)"/>
<path d="M1171 663 L1177 664 L1176 669 L1171 668 Z" fill="none" stroke="#000" stroke-width="1.83" stroke-linejoin="round" stroke-linecap="round"/>
<path d="M1180 676 L1186 677 L1185 682 L1180 681 Z" fill="none" stroke="#000" stroke-width="1.83" stroke-linejoin="round" stroke-linecap="round"/>
<path d="M1177 692 L1183 693 L1182 698 L1177 697 Z" fill="none" stroke="#000" stroke-width="1.83" stroke-linejoin="round" stroke-linecap="round"/>
<path d="M1165 665 Q1171 671 1169 677 M1181 661 Q1177 671 1179 677 M1179 689 Q1185 687 1187 691 M1167 691 Q1171 697 1171 703" fill="none" stroke="#000" stroke-width="1.22" stroke-linejoin="round" stroke-linecap="round"/>
<path d="M1162 675 L1166 676 M1161 681 L1166 682 M1162 687 L1166 687 M1164 693 L1168 692" fill="none" stroke="#000" stroke-width="2.44" stroke-linejoin="round" stroke-linecap="round"/>
<path d="M1208 676 L1214 671 L1222 676 L1223 686 L1217 690 L1210 686 Z" fill="#fff" stroke="#000" stroke-width="1.46" stroke-linejoin="round" stroke-linecap="round"/>
<path d="M1212 679 L1217 683" fill="none" stroke="#000" stroke-width="1.22" stroke-linejoin="round" stroke-linecap="round"/>
<path d="M1259 712 Q1258 705 1266 703 L1274 704 Q1280 707 1280 714 Q1279 721 1272 722 L1264 722 Q1260 719 1259 712 Z" fill="#fff" stroke="#000" stroke-width="1.46" stroke-linejoin="round" stroke-linecap="round"/>
<path d="M1264 708 Q1268 710 1269 715" fill="none" stroke="#000" stroke-width="1.22" stroke-linejoin="round" stroke-linecap="round"/>
<line x1="1317" y1="778" x2="1317" y2="806" stroke="#000" stroke-width="1.46" stroke-dasharray="3 0.7"/>
<path d="M1310 727 L1313 718 Q1316 715 1319 718 L1323 728" fill="#fff" stroke="#000" stroke-width="1.46" stroke-linejoin="round" stroke-linecap="round"/>
<ellipse cx="1316" cy="721" rx="1.5" ry="2" fill="none" stroke="#000" stroke-width="1.22"/>
<path d="M1311 726 Q1327 720 1337 734 Q1345 748 1341 764 L1335 768 L1338 774 Q1335 778 1329 776 L1313 778 Z" fill="#fff" stroke="#000" stroke-width="1.46" stroke-linejoin="round" stroke-linecap="round"/>
<path d="M1323 724 Q1337 740 1335 758 M1327 724 Q1341 742 1338 760 M1317 726 Q1329 746 1325 774" fill="none" stroke="#000" stroke-width="1.22" stroke-linejoin="round" stroke-linecap="round"/>
<ellipse cx="1334" cy="773" rx="1.6" ry="2" fill="none" stroke="#000" stroke-width="1.22"/>
<ellipse cx="1305" cy="752" rx="15.5" ry="26" fill="#fff" stroke="#000" stroke-width="2.32" transform="rotate(-8 1305 752)"/>
<ellipse cx="1306" cy="752" rx="12" ry="22" fill="none" stroke="#000" stroke-width="1.59" transform="rotate(-8 1306 752)"/>
<ellipse cx="1303" cy="754" rx="5.5" ry="7.5" fill="#fff" stroke="#000" stroke-width="2.44" transform="rotate(-8 1303 754)"/>
<ellipse cx="1303" cy="754" rx="2.2" ry="3.2" fill="#000" stroke="#000" stroke-width="2.2" transform="rotate(-8 1303 754)"/>
<path d="M1301 734 L1307 735 L1306 740 L1301 739 Z" fill="none" stroke="#000" stroke-width="1.83" stroke-linejoin="round" stroke-linecap="round"/>
<path d="M1310 747 L1316 748 L1315 753 L1310 752 Z" fill="none" stroke="#000" stroke-width="1.83" stroke-linejoin="round" stroke-linecap="round"/>
<path d="M1307 763 L1313 764 L1312 769 L1307 768 Z" fill="none" stroke="#000" stroke-width="1.83" stroke-linejoin="round" stroke-linecap="round"/>
<path d="M1295 736 Q1301 742 1299 748 M1311 732 Q1307 742 1309 748 M1309 760 Q1315 758 1317 762 M1297 762 Q1301 768 1301 774" fill="none" stroke="#000" stroke-width="1.22" stroke-linejoin="round" stroke-linecap="round"/>
<path d="M1292 746 L1296 747 M1291 752 L1296 753 M1292 758 L1296 758 M1294 764 L1298 763" fill="none" stroke="#000" stroke-width="2.44" stroke-linejoin="round" stroke-linecap="round"/>
<path d="M1283 720 Q1282 714 1290 712 L1298 713 Q1304 716 1304 722 Q1302 727 1296 727 L1288 726 Q1284 724 1283 720 Z" fill="#fff" stroke="#000" stroke-width="1.46" stroke-linejoin="round" stroke-linecap="round"/>
<path d="M1288 717 Q1292 719 1292 723" fill="none" stroke="#000" stroke-width="1.22" stroke-linejoin="round" stroke-linecap="round"/>
<path d="M1298 728 Q1292 736 1282 740" fill="none" stroke="#000" stroke-width="4.6" stroke-linecap="round" stroke-linejoin="round"/>
<path d="M1298 728 Q1292 736 1282 740" fill="none" stroke="#fff" stroke-width="1.9" stroke-linecap="round" stroke-linejoin="round"/>
<path d="M1093 706 Q1093 702 1097 702 L1101 703 L1101 711 L1096 711 Q1093 710 1093 706 Z" fill="#fff" stroke="#000" stroke-width="1.34" stroke-linejoin="round" stroke-linecap="round"/>
<ellipse cx="1096.5" cy="706.5" rx="1.4" ry="1.8" fill="none" stroke="#000" stroke-width="1.22"/>
<path d="M1101.5 700.5 L1113 694.5 L1147.5 713 L1147.5 720 L1166 718 L1169 722 L1168 733 L1150 737 L1148 742 L1154 744 L1156 752 L1150 757 L1142 756 L1140 758 L1133 756 L1133 762 L1123 762 L1122 752 L1104 739.5 Z" fill="#fff" stroke="#000" stroke-width="1.59" stroke-linejoin="round" stroke-linecap="round"/>
<path d="M1101.5 700.5 L1138 722.5 L1147.5 717 M1138 722.5 L1139.5 756" fill="none" stroke="#000" stroke-width="1.34" stroke-linejoin="round" stroke-linecap="round"/>
<line x1="1113" y1="711.0" x2="1113" y2="747.0" stroke="#000" stroke-width="1.34"/>
<line x1="1117" y1="713.32" x2="1117" y2="749.32" stroke="#000" stroke-width="1.34"/>
<line x1="1121" y1="715.64" x2="1121" y2="751.64" stroke="#000" stroke-width="1.34"/>
<line x1="1125" y1="717.96" x2="1125" y2="753.96" stroke="#000" stroke-width="1.34"/>
<line x1="1129" y1="720.28" x2="1129" y2="756.28" stroke="#000" stroke-width="1.34"/>
<line x1="1133" y1="722.6" x2="1133" y2="758.6" stroke="#000" stroke-width="1.34"/>
<path d="M1113 711 L1133 722.6 M1113 747 L1133 758.6" fill="none" stroke="#000" stroke-width="1.22" stroke-linejoin="round" stroke-linecap="round"/>
<path d="M1118 700 L1122 704 M1124 699 L1120 705 M1132 708 L1136 712 M1138 707 L1134 713" fill="none" stroke="#000" stroke-width="1.22" stroke-linejoin="round" stroke-linecap="round"/>
<path d="M1147.5 722 L1152 721 L1152 735 M1158 729 L1164 728 M1161 725 L1161 731 M1144 748 Q1147 746 1149 749" fill="none" stroke="#000" stroke-width="1.22" stroke-linejoin="round" stroke-linecap="round"/>
<line x1="1131" y1="762" x2="1131" y2="796" stroke="#000" stroke-width="1.46" stroke-dasharray="3 0.7"/>
<line x1="1157" y1="746.6" x2="1180" y2="741.8" stroke="#000" stroke-width="1.46" stroke-dasharray="5.5 3.5"/>
<g transform="rotate(168 1202 734.6)">
<path d="M1207 731.6 L1222 731.6 L1225 734.6 L1222 737.6 L1207 737.6 Z" fill="#fff" stroke="#000" stroke-width="1.34" stroke-linejoin="round" stroke-linecap="round"/>
<line x1="1210" y1="731.6" x2="1210" y2="737.6" stroke="#000" stroke-width="1.22"/>
<line x1="1213" y1="731.6" x2="1213" y2="737.6" stroke="#000" stroke-width="1.22"/>
<line x1="1216" y1="731.6" x2="1216" y2="737.6" stroke="#000" stroke-width="1.22"/>
<line x1="1219" y1="731.6" x2="1219" y2="737.6" stroke="#000" stroke-width="1.22"/>
<line x1="1222" y1="731.6" x2="1222" y2="737.6" stroke="#000" stroke-width="1.22"/>
<ellipse cx="1202" cy="734.6" rx="6.5" ry="7" fill="#fff" stroke="#000" stroke-width="1.83"/>
<ellipse cx="1201.5" cy="734.6" rx="4" ry="4.6" fill="none" stroke="#000" stroke-width="1.22"/>
</g>
<line x1="1200.5" y1="744" x2="1200.5" y2="773" stroke="#000" stroke-width="1.59"/>
<line x1="1353.5" y1="598" x2="1353.5" y2="633" stroke="#000" stroke-width="1.46" stroke-dasharray="3 0.7"/>
<path d="M1350 638 L1326 630 Q1322 631 1323 636 L1328 668 L1345 675" fill="none" stroke="#000" stroke-width="5.6" stroke-linecap="round" stroke-linejoin="round"/>
<path d="M1350 638 L1326 630 Q1322 631 1323 636 L1328 668 L1345 675" fill="none" stroke="#fff" stroke-width="2.5" stroke-linecap="round" stroke-linejoin="round"/>
<path d="M1328 668 L1306 691 Q1300 694 1300 688 L1309 668 Q1308 664 1302 668" fill="none" stroke="#000" stroke-width="5.6" stroke-linecap="round" stroke-linejoin="round"/>
<path d="M1328 668 L1306 691 Q1300 694 1300 688 L1309 668 Q1308 664 1302 668" fill="none" stroke="#fff" stroke-width="2.5" stroke-linecap="round" stroke-linejoin="round"/>
<path d="M1351 634 L1362 632 L1362 636 L1377 635 L1379.5 638 L1379.5 654 L1376 656 L1364 655 L1364 652 L1353 651 Z" fill="#fff" stroke="#000" stroke-width="1.59" stroke-linejoin="round" stroke-linecap="round"/>
<path d="M1364 636 L1364 652 M1371 636 L1371 655 M1355 640 L1360 640 L1360 646 L1355 646" fill="none" stroke="#000" stroke-width="1.34" stroke-linejoin="round" stroke-linecap="round"/>
<path d="M1277 661 L1288 658 L1292 660 L1297 662 L1300 668 L1299 676 L1294 679 L1290 683 L1280 684 L1277 681 Z" fill="#fff" stroke="#000" stroke-width="1.59" stroke-linejoin="round" stroke-linecap="round"/>
<path d="M1283 660 L1283 683 M1290 661 L1290 682 M1279 666 L1283 668 M1279 674 L1283 674 M1294 664 L1294 678" fill="none" stroke="#000" stroke-width="1.34" stroke-linejoin="round" stroke-linecap="round"/>
<path d="M1346 674 L1350 672 L1353 678 L1350 681 Z" fill="#fff" stroke="#000" stroke-width="1.34" stroke-linejoin="round" stroke-linecap="round"/>
<ellipse cx="1358" cy="679" rx="4" ry="3.6" fill="#fff" stroke="#000" stroke-width="1.59"/>
<ellipse cx="1359" cy="679" rx="1.6" ry="2" fill="none" stroke="#000" stroke-width="1.22"/>
</g>
<g id="labels">
<rect x="984" y="300" width="64" height="25.5" fill="#87d3f8"/>
<text x="38" y="42" font-family="'Liberation Serif','DejaVu Serif',serif" font-size="20.5" font-weight="bold" fill="#000" textLength="66" lengthAdjust="spacingAndGlyphs">16523A</text>
<text x="229" y="67" font-family="'Liberation Serif','DejaVu Serif',serif" font-size="20.5" font-weight="bold" fill="#000" textLength="54" lengthAdjust="spacingAndGlyphs">16400</text>
<text x="364" y="108" font-family="'Liberation Serif','DejaVu Serif',serif" font-size="20.5" font-weight="bold" fill="#000" textLength="66" lengthAdjust="spacingAndGlyphs">16400B</text>
<text x="366" y="150" font-family="'Liberation Serif','DejaVu Serif',serif" font-size="20.5" font-weight="bold" fill="#000" textLength="67" lengthAdjust="spacingAndGlyphs">16400F</text>
<text x="396" y="255" font-family="'Liberation Serif','DejaVu Serif',serif" font-size="20.5" font-weight="bold" fill="#000" textLength="54" lengthAdjust="spacingAndGlyphs">16441</text>
<text x="392" y="300" font-family="'Liberation Serif','DejaVu Serif',serif" font-size="20.5" font-weight="bold" fill="#000" textLength="54" lengthAdjust="spacingAndGlyphs">16442</text>
<text x="578" y="112" font-family="'Liberation Serif','DejaVu Serif',serif" font-size="20.5" font-weight="bold" fill="#000" textLength="65.5" lengthAdjust="spacingAndGlyphs">16571D</text>
<text x="544" y="171.5" font-family="'Liberation Serif','DejaVu Serif',serif" font-size="20.5" font-weight="bold" fill="#000" textLength="66" lengthAdjust="spacingAndGlyphs">16571C</text>
<text x="559" y="263" font-family="'Liberation Serif','DejaVu Serif',serif" font-size="20.5" font-weight="bold" fill="#000" textLength="65" lengthAdjust="spacingAndGlyphs">16571D</text>
<text x="545" y="432.5" font-family="'Liberation Serif','DejaVu Serif',serif" font-size="20.5" font-weight="bold" fill="#000" textLength="65.5" lengthAdjust="spacingAndGlyphs">16572E</text>
<text x="549" y="481" font-family="'Liberation Serif','DejaVu Serif',serif" font-size="20.5" font-weight="bold" fill="#000" textLength="66" lengthAdjust="spacingAndGlyphs">16572D</text>
<text x="520" y="540" font-family="'Liberation Serif','DejaVu Serif',serif" font-size="20.5" font-weight="bold" fill="#000" textLength="64" lengthAdjust="spacingAndGlyphs">16572E</text>
<text x="720" y="284" font-family="'Liberation Serif','DejaVu Serif',serif" font-size="20.5" font-weight="bold" fill="#000" textLength="66" lengthAdjust="spacingAndGlyphs">16567A</text>
<text x="885" y="367" font-family="'Liberation Serif','DejaVu Serif',serif" font-size="20.5" font-weight="bold" fill="#000" textLength="53" lengthAdjust="spacingAndGlyphs">16471</text>
<text x="781.5" y="438" font-family="'Liberation Serif','DejaVu Serif',serif" font-size="20.5" font-weight="bold" fill="#000" textLength="54.5" lengthAdjust="spacingAndGlyphs">16566</text>
<text x="825" y="462" font-family="'Liberation Serif','DejaVu Serif',serif" font-size="20.5" font-weight="bold" fill="#000" textLength="66.5" lengthAdjust="spacingAndGlyphs">16567A</text>
<text x="1006.5" y="561" font-family="'Liberation Serif','DejaVu Serif',serif" font-size="20.5" font-weight="bold" fill="#000" textLength="65.5" lengthAdjust="spacingAndGlyphs">16567B</text>
<text x="966" y="600" font-family="'Liberation Serif','DejaVu Serif',serif" font-size="20.5" font-weight="bold" fill="#000" textLength="66" lengthAdjust="spacingAndGlyphs">16470M</text>
<text x="718.5" y="606" font-family="'Liberation Serif','DejaVu Serif',serif" font-size="20.5" font-weight="bold" fill="#000" textLength="65.5" lengthAdjust="spacingAndGlyphs">16567C</text>
<text x="719" y="654.5" font-family="'Liberation Serif','DejaVu Serif',serif" font-size="20.5" font-weight="bold" fill="#000" textLength="54" lengthAdjust="spacingAndGlyphs">16711</text>
<text x="1099" y="534" font-family="'Liberation Serif','DejaVu Serif',serif" font-size="20.5" font-weight="bold" fill="#000" textLength="55" lengthAdjust="spacingAndGlyphs">16567</text>
<text x="1162.5" y="609" font-family="'Liberation Serif','DejaVu Serif',serif" font-size="20.5" font-weight="bold" fill="#000" textLength="65.5" lengthAdjust="spacingAndGlyphs">16363A</text>
<text x="385" y="752" font-family="'Liberation Serif','DejaVu Serif',serif" font-size="20.5" font-weight="bold" fill="#000" textLength="54" lengthAdjust="spacingAndGlyphs">16462</text>
<text x="380.5" y="782" font-family="'Liberation Serif','DejaVu Serif',serif" font-size="20.5" font-weight="bold" fill="#000" textLength="66.5" lengthAdjust="spacingAndGlyphs">16400B</text>
<text x="366.5" y="825" font-family="'Liberation Serif','DejaVu Serif',serif" font-size="20.5" font-weight="bold" fill="#000" textLength="67.5" lengthAdjust="spacingAndGlyphs">16400F</text>
<text x="380.5" y="874" font-family="'Liberation Serif','DejaVu Serif',serif" font-size="20.5" font-weight="bold" fill="#000" textLength="54.5" lengthAdjust="spacingAndGlyphs">16461</text>
<text x="363.5" y="948" font-family="'Liberation Serif','DejaVu Serif',serif" font-size="20.5" font-weight="bold" fill="#000" textLength="54.5" lengthAdjust="spacingAndGlyphs">16535</text>
<text x="522" y="753" font-family="'Liberation Serif','DejaVu Serif',serif" font-size="20.5" font-weight="bold" fill="#000" textLength="65" lengthAdjust="spacingAndGlyphs">16361B</text>
<text x="758" y="968" font-family="'Liberation Serif','DejaVu Serif',serif" font-size="20.5" font-weight="bold" fill="#000" textLength="54" lengthAdjust="spacingAndGlyphs">16361</text>
<text x="1292" y="823.5" font-family="'Liberation Serif','DejaVu Serif',serif" font-size="20.5" font-weight="bold" fill="#000" textLength="53.5" lengthAdjust="spacingAndGlyphs">16363</text>
<text x="987" y="321" font-family="'Liberation Serif','DejaVu Serif',serif" font-size="20.5" font-weight="bold" fill="#0c5c86" textLength="54.5" lengthAdjust="spacingAndGlyphs">16470</text>
<text x="831" y="263.5" font-family="'Liberation Serif','DejaVu Serif',serif" font-size="17" font-weight="bold" fill="#000" textLength="132" lengthAdjust="spacingAndGlyphs">91651-B0618(2)</text>
<text x="1005" y="659.5" font-family="'Liberation Serif','DejaVu Serif',serif" font-size="17" font-weight="bold" fill="#000" textLength="132.5" lengthAdjust="spacingAndGlyphs">91651-B0618(2)</text>
<text x="674.5" y="682" font-family="'Liberation Serif','DejaVu Serif',serif" font-size="17" font-weight="bold" fill="#000" textLength="131.5" lengthAdjust="spacingAndGlyphs">90099-04119(3)</text>
<text x="545" y="860" font-family="'Liberation Serif','DejaVu Serif',serif" font-size="17" font-weight="bold" fill="#000" textLength="105" lengthAdjust="spacingAndGlyphs">90099-05164</text>
<text x="658" y="928" font-family="'Liberation Serif','DejaVu Serif',serif" font-size="17" font-weight="bold" fill="#000" textLength="105" lengthAdjust="spacingAndGlyphs">90099-05164</text>
<text x="869.5" y="963" font-family="'Liberation Serif','DejaVu Serif',serif" font-size="17" font-weight="bold" fill="#000" textLength="131.5" lengthAdjust="spacingAndGlyphs">90099-04119(3)</text>
<text x="1151" y="786.5" font-family="'Liberation Serif','DejaVu Serif',serif" font-size="17" font-weight="bold" fill="#000" textLength="132.5" lengthAdjust="spacingAndGlyphs">93315-14014(2)</text>
<text x="1134" y="402.5" font-family="'Liberation Serif','DejaVu Serif',serif" font-size="15" font-weight="bold" fill="#000" textLength="81" lengthAdjust="spacingAndGlyphs">REFER TO</text>
<text x="1134" y="422" font-family="'Liberation Serif','DejaVu Serif',serif" font-size="15" font-weight="bold" fill="#000" textLength="91.5" lengthAdjust="spacingAndGlyphs">FIG 17-09</text>
<text x="1137" y="441" font-family="'Liberation Serif','DejaVu Serif',serif" font-size="15" font-weight="bold" fill="#000" textLength="111" lengthAdjust="spacingAndGlyphs">(PNC 16793A)</text>
<text x="1143.5" y="470.5" font-family="'Liberation Serif','DejaVu Serif',serif" font-size="15" font-weight="bold" fill="#000" textLength="82" lengthAdjust="spacingAndGlyphs">REFER TO</text>
<text x="1143.5" y="490" font-family="'Liberation Serif','DejaVu Serif',serif" font-size="15" font-weight="bold" fill="#000" textLength="92" lengthAdjust="spacingAndGlyphs">FIG 17-09</text>
<text x="1147" y="509" font-family="'Liberation Serif','DejaVu Serif',serif" font-size="15" font-weight="bold" fill="#000" textLength="101" lengthAdjust="spacingAndGlyphs">(PNC 11285)</text>
<text x="1300" y="557.5" font-family="'Liberation Serif','DejaVu Serif',serif" font-size="15" font-weight="bold" fill="#000" textLength="82" lengthAdjust="spacingAndGlyphs">REFER TO</text>
<text x="1300" y="576" font-family="'Liberation Serif','DejaVu Serif',serif" font-size="15" font-weight="bold" fill="#000" textLength="91" lengthAdjust="spacingAndGlyphs">FIG 82-02</text>
<text x="1303" y="595" font-family="'Liberation Serif','DejaVu Serif',serif" font-size="15" font-weight="bold" fill="#000" textLength="111" lengthAdjust="spacingAndGlyphs">(PNC 16364A)</text>
<text x="1093.5" y="810.5" font-family="'Liberation Serif','DejaVu Serif',serif" font-size="15" font-weight="bold" fill="#000" textLength="81.5" lengthAdjust="spacingAndGlyphs">REFER TO</text>
<text x="1093.5" y="830" font-family="'Liberation Serif','DejaVu Serif',serif" font-size="15" font-weight="bold" fill="#000" textLength="90.5" lengthAdjust="spacingAndGlyphs">FIG 84-01</text>
<text x="1095.5" y="848.5" font-family="'Liberation Serif','DejaVu Serif',serif" font-size="15" font-weight="bold" fill="#000" textLength="102.5" lengthAdjust="spacingAndGlyphs">(PNC 89257)</text>
<text x="824.5" y="60.5" font-family="'Liberation Mono','DejaVu Sans Mono',monospace" font-size="19" fill="#000" textLength="80.5" lengthAdjust="spacingAndGlyphs">REFER TO</text>
<text x="824.5" y="78" font-family="'Liberation Mono','DejaVu Sans Mono',monospace" font-size="19" fill="#000" textLength="96" lengthAdjust="spacingAndGlyphs">ILLUST NO.</text>
<text x="824.5" y="96" font-family="'Liberation Mono','DejaVu Sans Mono',monospace" font-size="19" fill="#000" textLength="59.5" lengthAdjust="spacingAndGlyphs">2 OF 2</text>
<text x="516.5" y="357.5" font-family="'Liberation Mono','DejaVu Sans Mono',monospace" font-size="19" fill="#000" textLength="80.5" lengthAdjust="spacingAndGlyphs">REFER TO</text>
<text x="516.5" y="375" font-family="'Liberation Mono','DejaVu Sans Mono',monospace" font-size="19" fill="#000" textLength="96.5" lengthAdjust="spacingAndGlyphs">ILLUST NO.</text>
<text x="516.5" y="393" font-family="'Liberation Mono','DejaVu Sans Mono',monospace" font-size="19" fill="#000" textLength="60" lengthAdjust="spacingAndGlyphs">2 OF 2</text>
<text x="364" y="124" font-family="'Liberation Sans','DejaVu Sans',sans-serif" font-size="16" fill="#000" textLength="53" lengthAdjust="spacingAndGlyphs">(NO. 2)</text>
<text x="366" y="166" font-family="'Liberation Sans','DejaVu Sans',sans-serif" font-size="16" fill="#000" textLength="53" lengthAdjust="spacingAndGlyphs">(NO. 2)</text>
<text x="381" y="798" font-family="'Liberation Sans','DejaVu Sans',sans-serif" font-size="16" fill="#000" textLength="53" lengthAdjust="spacingAndGlyphs">(NO. 1)</text>
<text x="368" y="840.5" font-family="'Liberation Sans','DejaVu Sans',sans-serif" font-size="16" fill="#000" textLength="53" lengthAdjust="spacingAndGlyphs">(NO. 1)</text>
<text x="1050.5" y="122.5" font-family="'Liberation Sans','DejaVu Sans',sans-serif" font-size="16.5" fill="#000" textLength="57.5" lengthAdjust="spacingAndGlyphs">TYPE A</text>
<text x="1263" y="122.5" font-family="'Liberation Sans','DejaVu Sans',sans-serif" font-size="16.5" fill="#000" textLength="56" lengthAdjust="spacingAndGlyphs">TYPE B</text>
<text x="996" y="189.5" font-family="'Liberation Sans','DejaVu Sans',sans-serif" font-size="16" fill="#000" textLength="49" lengthAdjust="spacingAndGlyphs">OD=16</text>
<text x="1197.5" y="189.5" font-family="'Liberation Sans','DejaVu Sans',sans-serif" font-size="16" fill="#000" textLength="49.5" lengthAdjust="spacingAndGlyphs">OD=20</text>
<text x="1361" y="984" font-family="'Liberation Sans','DejaVu Sans',sans-serif" font-size="16.5" fill="#000" textLength="63" lengthAdjust="spacingAndGlyphs">163235A</text>
</g>
<g id="frames">
<rect x="30" y="82" width="453.5" height="825.5" fill="none" stroke="#000" stroke-width="1.95"/>
<line x1="256" y1="71" x2="256" y2="82" stroke="#000" stroke-width="1.83"/>
<rect x="773" y="335" width="485" height="237.5" fill="none" stroke="#000" stroke-width="1.95"/>
<line x1="1013" y1="325" x2="1013" y2="335" stroke="#000" stroke-width="1.83"/>
<rect x="973" y="103" width="424.5" height="137" fill="none" stroke="#000" stroke-width="2.44"/>
<line x1="973" y1="128" x2="1397.5" y2="128" stroke="#000" stroke-width="2.44"/>
<line x1="1185" y1="103" x2="1185" y2="240" stroke="#000" stroke-width="2.44"/>
</g>
</svg>
</body></html>
